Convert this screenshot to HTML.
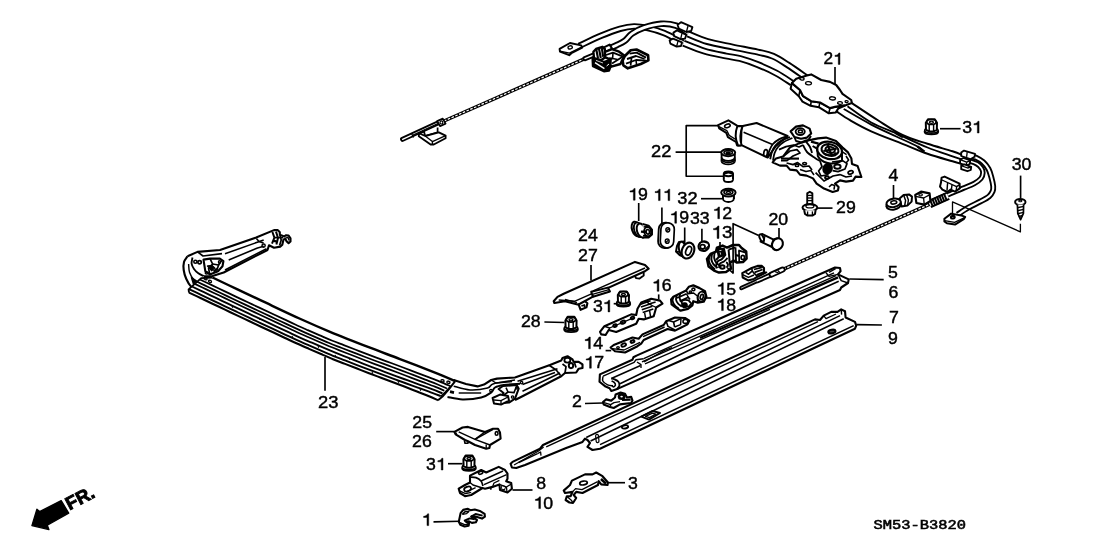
<!DOCTYPE html>
<html><head><meta charset="utf-8"><title>SM53-B3820</title>
<style>
html,body{margin:0;padding:0;background:#fff;}
body{width:1108px;height:553px;overflow:hidden;font-family:"Liberation Sans",sans-serif;}
svg{display:block;filter:grayscale(1);}
svg path, svg ellipse{stroke-linejoin:round;}
svg text{fill:#000;}
</style></head><body>
<svg width="1108" height="553" viewBox="0 0 1108 553">
<rect x="0" y="0" width="1108" height="553" fill="#fff"/>
<path d="M444 121 L590.5 56.2" fill="none" stroke="#000" stroke-width="3.5"/>
<path d="M444 121 L590.5 56.2" fill="none" stroke="#fff" stroke-width="1.2" stroke-dasharray="2.6 1.5"/>
<path d="M402.6 139.3 L440 122" fill="none" stroke="#000" stroke-width="5.05" stroke-linecap="round"/>
<path d="M402.6 139.3 L440 122" fill="none" stroke="#fff" stroke-width="1.35" stroke-linecap="round"/>
<path d="M411.5 133.5 L413.5 137.5" fill="none" stroke="#000" stroke-width="1.32" />
<path d="M412.5 135.2 L438.5 123.2" fill="none" stroke="#000" stroke-width="1.19" />
<path d="M437.2 121 L442.8 118.6 L445.6 123.6 L440 126.2 Z" fill="#fff" stroke="#000" stroke-width="1.72" />
<ellipse cx="441.4" cy="122.4" rx="1.4" ry="1.6" fill="none" stroke="#000" stroke-width="1.19"/>
<path d="M419 133.2 L424 131.6 L425.2 136 L437.6 132.4 L437.6 127.5" fill="none" stroke="#000" stroke-width="1.72" />
<path d="M425.2 136 L438.8 132.4 L445.6 135.6 L445.6 138.3 L433.8 144.5 L430.6 144.5 L418.8 136.2 L419 133.2 Z" fill="#fff" stroke="#000" stroke-width="1.85" />
<path d="M425.2 136 L432.4 141.6 L445.6 135.6" fill="none" stroke="#000" stroke-width="1.32" />
<path d="M432.4 141.6 L432.4 144.4" fill="none" stroke="#000" stroke-width="1.32" />
<path d="M579 46 C582.67 44.3 594.17 38.67 601 35.8 C607.83 32.93 614.5 30.37 620 28.8 C625.5 27.23 629.33 26.5 634 26.4 C638.67 26.3 643 27.1 648 28.2 C653 29.3 658.17 30.6 664 33 C669.83 35.4 679.83 41 683 42.6" fill="none" stroke="#000" stroke-width="6.45" stroke-linecap="butt"/>
<path d="M579 46 C582.67 44.3 594.17 38.67 601 35.8 C607.83 32.93 614.5 30.37 620 28.8 C625.5 27.23 629.33 26.5 634 26.4 C638.67 26.3 643 27.1 648 28.2 C653 29.3 658.17 30.6 664 33 C669.83 35.4 679.83 41 683 42.6" fill="none" stroke="#fff" stroke-width="2.75" stroke-linecap="butt"/>
<path d="M559.6 48.8 L570 43 L581.2 45.4 L582.2 47.6 L571.4 53.2 L569.2 55.2 L560 51.6 Z" fill="#fff" stroke="#000" stroke-width="1.98" />
<path d="M560 51.2 L569.4 53.2 L581.6 47.2" fill="none" stroke="#000" stroke-width="1.32" />
<ellipse cx="570.2" cy="47.4" rx="2.2" ry="1.5" fill="none" stroke="#000" stroke-width="1.32" transform="rotate(-15 570.2 47.4)"/>
<path d="M608.5 48.6 C609.92 48 614.25 46.33 617 45 C619.75 43.67 622.5 42.5 625 40.6 C627.5 38.7 628.83 35.77 632 33.6 C635.17 31.43 639.17 29.23 644 27.6 C648.83 25.97 655.67 24.13 661 23.8 C666.33 23.47 671.5 24.07 676 25.6 C680.5 27.13 686 31.77 688 33" fill="none" stroke="#000" stroke-width="6.45" stroke-linecap="butt"/>
<path d="M608.5 48.6 C609.92 48 614.25 46.33 617 45 C619.75 43.67 622.5 42.5 625 40.6 C627.5 38.7 628.83 35.77 632 33.6 C635.17 31.43 639.17 29.23 644 27.6 C648.83 25.97 655.67 24.13 661 23.8 C666.33 23.47 671.5 24.07 676 25.6 C680.5 27.13 686 31.77 688 33" fill="none" stroke="#fff" stroke-width="2.75" stroke-linecap="butt"/>
<path d="M585 58.6 L594 54.8" fill="none" stroke="#000" stroke-width="5.05" stroke-linecap="round"/>
<path d="M585 58.6 L594 54.8" fill="none" stroke="#fff" stroke-width="1.35" stroke-linecap="round"/>
<path d="M603.4 47.6 L609.6 44.6 L612.2 48.8 L606 51.8 Z" fill="#fff" stroke="#000" stroke-width="2.11" />
<path d="M593.4 51.8 L596 49 L602.4 46.8 L604.8 49 L605.6 57 L601 60.2 L594 58.2 Z" fill="#fff" stroke="#000" stroke-width="2.38" />
<path d="M596.4 50 L598 58.4" fill="none" stroke="#000" stroke-width="2.11" />
<path d="M599 48.8 L600.8 58" fill="none" stroke="#000" stroke-width="2.11" />
<path d="M601.8 48 L603.2 56.8" fill="none" stroke="#000" stroke-width="2.11" />
<path d="M592.6 58 L604 62 L610.6 59.6 L610.4 66.9 L609 70.5 L603.9 71.2 L593 66.1 Z" fill="#000" stroke="#000" stroke-width="2.38" />
<path d="M595 62.6 L604.4 68.6" fill="none" stroke="#fff" stroke-width="1.3" />
<path d="M606.6 66 L609 64" fill="none" stroke="#fff" stroke-width="1" />
<path d="M596 60.4 L603 63" fill="none" stroke="#fff" stroke-width="0.8" />
<path d="M604.8 52 L612 49.2 L619.1 51.7 L624.9 56 L622 60.6 L620.5 64 L610.4 66.9 L610.6 59.6 L605.4 57.4 Z" fill="#fff" stroke="#000" stroke-width="2.38" />
<path d="M606 55 L613 52.6 L623 56.6 L612 63.6" fill="none" stroke="#000" stroke-width="1.72" />
<path d="M613 52.6 L612.6 58.6 L617.6 59.6" fill="none" stroke="#000" stroke-width="1.58" />
<path d="M609 58.6 L612.4 58.6" fill="none" stroke="#000" stroke-width="2.38" />
<path d="M624.9 56 L630.7 50.2 L636.5 49.5 L648.1 55.3 L648.4 60.4 L640.8 64 L627.8 68.3 L623.4 65.4 L622.6 60.6 Z" fill="#fff" stroke="#000" stroke-width="2.64" />
<path d="M629.6 53.6 L636.6 52.6 L646 57.6" fill="none" stroke="#000" stroke-width="1.85" />
<path d="M627 59 L636 56 L644.6 59" fill="none" stroke="#000" stroke-width="1.85" />
<path d="M626 63.6 L636 60 L646.6 60.6" fill="none" stroke="#000" stroke-width="1.85" />
<path d="M631.6 57 L630.6 65.6" fill="none" stroke="#000" stroke-width="1.72" />
<path d="M636 60 L636.6 65" fill="none" stroke="#000" stroke-width="1.58" />
<path d="M683.5 43.2 C686.92 44.5 696.92 48.87 704 51 C711.08 53.13 720 54.75 726 56 C732 57.25 734.75 57.08 740 58.5 C745.25 59.92 751.5 62.08 757.5 64.5 C763.5 66.92 770.25 69.92 776 73 C781.75 76.08 789.33 81.33 792 83" fill="none" stroke="#000" stroke-width="6.85" stroke-linecap="butt"/>
<path d="M683.5 43.2 C686.92 44.5 696.92 48.87 704 51 C711.08 53.13 720 54.75 726 56 C732 57.25 734.75 57.08 740 58.5 C745.25 59.92 751.5 62.08 757.5 64.5 C763.5 66.92 770.25 69.92 776 73 C781.75 76.08 789.33 81.33 792 83" fill="none" stroke="#fff" stroke-width="3.15" stroke-linecap="butt"/>
<path d="M688 34 C691.25 35.27 700.08 39.43 707.5 41.6 C714.92 43.77 724.17 45.27 732.5 47 C740.83 48.73 750.75 50.47 757.5 52 C764.25 53.53 767.92 54.03 773 56.2 C778.08 58.37 782.5 61.47 788 65 C793.5 68.53 803 75.33 806 77.4" fill="none" stroke="#000" stroke-width="6.85" stroke-linecap="butt"/>
<path d="M688 34 C691.25 35.27 700.08 39.43 707.5 41.6 C714.92 43.77 724.17 45.27 732.5 47 C740.83 48.73 750.75 50.47 757.5 52 C764.25 53.53 767.92 54.03 773 56.2 C778.08 58.37 782.5 61.47 788 65 C793.5 68.53 803 75.33 806 77.4" fill="none" stroke="#fff" stroke-width="3.15" stroke-linecap="butt"/>
<path d="M677.6 24.8 L681 22.2 L692.4 27.2 L691.2 31 L686.4 32 L678.8 28.6 Z" fill="#fff" stroke="#000" stroke-width="1.85" />
<path d="M686.4 32 L688 26" fill="none" stroke="#000" stroke-width="1.32" />
<path d="M673.4 32.6 L677 30.4 L686.4 34.8 L685 38.6 L680.6 39.2 L674.2 36.2 Z" fill="#fff" stroke="#000" stroke-width="1.85" />
<path d="M680.6 39.2 L682 33.4" fill="none" stroke="#000" stroke-width="1.32" />
<path d="M669.6 40.4 L673 38.6 L682 42.4 L681 46 L676.6 46.6 L670.4 43.6 Z" fill="#fff" stroke="#000" stroke-width="1.85" />
<path d="M676.6 46.6 L678 41.2" fill="none" stroke="#000" stroke-width="1.32" />
<path d="M851.9 103.1 C856.17 105.92 869.07 114.68 877.5 120 C885.93 125.32 894.17 131.03 902.5 135 C910.83 138.97 919.17 141.08 927.5 143.8 C935.83 146.52 946.58 149.4 952.5 151.3 C958.42 153.2 961.25 154.55 963 155.2" fill="none" stroke="#000" stroke-width="1.98" />
<path d="M836.4 111.4 C838.67 112.87 844.2 116.88 850 120.2 C855.8 123.52 862.45 127.37 871.2 131.3 C879.95 135.23 893.12 140.05 902.5 143.8 C911.88 147.55 919.17 150.88 927.5 153.8 C935.83 156.72 946.75 159.6 952.5 161.3 C958.25 163 960.42 163.55 962 164" fill="none" stroke="#000" stroke-width="1.98" />
<path d="M847.5 106.3 C851.45 109 863.28 118.1 871.2 122.5 C879.12 126.9 890.12 130.55 895 132.7 C899.88 134.85 899.58 134.95 900.5 135.4" fill="none" stroke="#000" stroke-width="1.85" />
<path d="M843.7 109 C848.28 111.6 862.45 120.02 871.2 124.6 C879.95 129.18 888.48 132.85 896.2 136.5 C903.92 140.15 913.03 144.05 917.5 146.5 C921.97 148.95 922.08 150.42 923 151.2" fill="none" stroke="#000" stroke-width="1.85" />
<path d="M898 134.2 C902.92 136.42 918.42 143.82 927.5 147.5 C936.58 151.18 946.83 154.32 952.5 156.3 C958.17 158.28 960 158.88 961.5 159.4" fill="none" stroke="#000" stroke-width="1.85" />
<path d="M895 132.7 L903 137" fill="none" stroke="#000" stroke-width="2.64" />
<path d="M917.5 146.5 L924.5 151.8" fill="none" stroke="#000" stroke-width="2.38" />
<path d="M791.9 83.1 L790.6 88.8 L798.8 96.2 L802.5 101.6 L810.6 105.8 L818.8 107.2 L828.8 113.3 L835.6 112.6 L838.2 108.6 L846.2 105 L835 106.9 L830 108.1 L820 102.5 L811.2 101.2 L803.1 96.2 L800 90 Z" fill="#fff" stroke="#000" stroke-width="1.98" />
<path d="M791.9 83.1 L796.2 78.8 L806.9 75.6 L811.2 74.4 L821.2 80 L830 81.9 L836.2 85 L840 90 L842.5 93.8 L851.2 100 L851.9 103.1 L846.2 105 L835 106.9 L830 108.1 L820 102.5 L811.2 101.2 L803.1 96.2 L800 90 Z" fill="#fff" stroke="#000" stroke-width="2.11" />
<path d="M800 90 L798.8 96.2" fill="none" stroke="#000" stroke-width="1.58" />
<path d="M811.2 101.2 L810.6 105.8" fill="none" stroke="#000" stroke-width="1.58" />
<path d="M820 102.5 L818.8 107.2" fill="none" stroke="#000" stroke-width="1.58" />
<path d="M830 108.1 L828.8 113.3" fill="none" stroke="#000" stroke-width="1.58" />
<ellipse cx="801.9" cy="78.8" rx="2.2" ry="1.3" fill="none" stroke="#000" stroke-width="1.32" transform="rotate(10 801.9 78.8)"/>
<ellipse cx="808.5" cy="83.2" rx="3" ry="1.6" fill="none" stroke="#000" stroke-width="1.32" transform="rotate(5 808.5 83.2)"/>
<ellipse cx="832.5" cy="98.4" rx="3" ry="1.6" fill="none" stroke="#000" stroke-width="1.32" transform="rotate(5 832.5 98.4)"/>
<ellipse cx="840" cy="103" rx="2.4" ry="1.4" fill="none" stroke="#000" stroke-width="1.32" transform="rotate(5 840 103)"/>
<ellipse cx="846.6" cy="101.6" rx="1.6" ry="1" fill="none" stroke="#000" stroke-width="1.19" transform="rotate(5 846.6 101.6)"/>
<path d="M972 156.8 C972.67 156.93 974.17 156.73 976 157.6 C977.83 158.47 980.92 160.1 983 162 C985.08 163.9 987.1 166.42 988.5 169 C989.9 171.58 990.62 174.63 991.4 177.5 C992.18 180.37 993 183.88 993.2 186.2 C993.4 188.52 993.3 189.7 992.6 191.4 C991.9 193.1 991 194.73 989 196.4 C987 198.07 984.1 199.5 980.6 201.4 C977.1 203.3 971.83 205.6 968 207.8 C964.17 210 959.33 213.47 957.6 214.6" fill="none" stroke="#000" stroke-width="5.85" stroke-linecap="butt"/>
<path d="M972 156.8 C972.67 156.93 974.17 156.73 976 157.6 C977.83 158.47 980.92 160.1 983 162 C985.08 163.9 987.1 166.42 988.5 169 C989.9 171.58 990.62 174.63 991.4 177.5 C992.18 180.37 993 183.88 993.2 186.2 C993.4 188.52 993.3 189.7 992.6 191.4 C991.9 193.1 991 194.73 989 196.4 C987 198.07 984.1 199.5 980.6 201.4 C977.1 203.3 971.83 205.6 968 207.8 C964.17 210 959.33 213.47 957.6 214.6" fill="none" stroke="#fff" stroke-width="2.15" stroke-linecap="butt"/>
<path d="M966 160.6 C966.67 160.7 968.18 160.67 970 161.2 C971.82 161.73 974.98 162.63 976.9 163.8 C978.82 164.97 980.5 166.7 981.5 168.2 C982.5 169.7 982.98 171.1 982.9 172.8 C982.82 174.5 982.42 176.63 981 178.4 C979.58 180.17 977.17 181.83 974.4 183.4 C971.63 184.97 967.85 186.33 964.4 187.8 C960.95 189.27 957.1 190.73 953.7 192.2 C950.3 193.67 945.62 195.87 944 196.6" fill="none" stroke="#000" stroke-width="5.45" stroke-linecap="butt"/>
<path d="M966 160.6 C966.67 160.7 968.18 160.67 970 161.2 C971.82 161.73 974.98 162.63 976.9 163.8 C978.82 164.97 980.5 166.7 981.5 168.2 C982.5 169.7 982.98 171.1 982.9 172.8 C982.82 174.5 982.42 176.63 981 178.4 C979.58 180.17 977.17 181.83 974.4 183.4 C971.63 184.97 967.85 186.33 964.4 187.8 C960.95 189.27 957.1 190.73 953.7 192.2 C950.3 193.67 945.62 195.87 944 196.6" fill="none" stroke="#fff" stroke-width="1.75" stroke-linecap="butt"/>
<path d="M961.2 152.6 L964 150.6 L975 153.8 L974.6 156.8 L970.4 159.2 L961.2 156 Z" fill="#fff" stroke="#000" stroke-width="1.85" />
<path d="M967.2 152.2 L966.6 156.8" fill="none" stroke="#000" stroke-width="1.32" />
<path d="M960.2 159.6 L963.4 158 L970.2 160.4 L969.8 164 L966.4 165.6 L960 163.4 Z" fill="#fff" stroke="#000" stroke-width="1.85" />
<path d="M960.2 159.6 L966.6 162.2 L969.8 160.8" fill="none" stroke="#000" stroke-width="1.32" />
<path d="M966.6 162.2 L966.4 165.6" fill="none" stroke="#000" stroke-width="1.32" />
<path d="M961.2 165.6 L964.4 164.4 L971.2 166.8 L970.8 170 L967.4 171.2 L961.2 169.2 Z" fill="#fff" stroke="#000" stroke-width="1.85" />
<path d="M961.2 165.6 L967.6 168 L970.8 167" fill="none" stroke="#000" stroke-width="1.32" />
<path d="M944.4 218.8 L951.2 213.6 L962.5 215.8 L965.2 216.9 L963.7 219.2 L955 224.6 L946.9 223.3 L944.4 221.4 Z" fill="#fff" stroke="#000" stroke-width="1.98" />
<path d="M944.6 220.6 L954.6 222.4 L964.6 217.6" fill="none" stroke="#000" stroke-width="1.32" />
<ellipse cx="952.8" cy="217.2" rx="1.9" ry="1.3" fill="none" stroke="#000" stroke-width="2.11" transform="rotate(-10 952.8 217.2)"/>
<path d="M932 203.2 L782 269.9" fill="none" stroke="#000" stroke-width="3.6"/>
<path d="M932 203.2 L782 269.9" fill="none" stroke="#fff" stroke-width="1.3" stroke-dasharray="2.6 1.5"/>
<path d="M929.5 204.2 L948 195.8" fill="none" stroke="#000" stroke-width="8.45" stroke-linecap="butt"/>
<path d="M929.5 204.2 L948 195.8" fill="none" stroke="#fff" stroke-width="4.75" stroke-linecap="butt"/>
<path d="M930 199.6 L933 207" fill="none" stroke="#000" stroke-width="1.98" />
<path d="M932.3 198.55 L935.3 205.95" fill="none" stroke="#000" stroke-width="1.98" />
<path d="M934.6 197.5 L937.6 204.9" fill="none" stroke="#000" stroke-width="1.98" />
<path d="M936.9 196.45 L939.9 203.85" fill="none" stroke="#000" stroke-width="1.98" />
<path d="M939.2 195.4 L942.2 202.8" fill="none" stroke="#000" stroke-width="1.98" />
<path d="M941.5 194.35 L944.5 201.75" fill="none" stroke="#000" stroke-width="1.98" />
<path d="M943.8 193.3 L946.8 200.7" fill="none" stroke="#000" stroke-width="1.98" />
<path d="M915.2 195 L921 191.6 L929.6 193.4 L930.4 201 L924.4 204.6 L916.4 203 Z" fill="#fff" stroke="#000" stroke-width="2.11" />
<path d="M915.6 196.4 L923.6 198 L930 194.6" fill="none" stroke="#000" stroke-width="1.32" />
<path d="M923.6 198 L924.2 204.2" fill="none" stroke="#000" stroke-width="1.32" />
<ellipse cx="920.6" cy="194.8" rx="1.8" ry="1.1" fill="none" stroke="#000" stroke-width="1.19"/>
<path d="M941 182.6 L941.6 177.6 L944.6 176.6 L959.6 183.6 L959.8 188.4 L955 191.6 L950.6 189.6 L947.4 192 L942.4 189.6 L940 186.6 Z" fill="#fff" stroke="#000" stroke-width="1.98" />
<path d="M942 180 L956.6 186.6 L959.6 184.6" fill="none" stroke="#000" stroke-width="1.32" />
<path d="M947.6 183 L947 190.6" fill="none" stroke="#000" stroke-width="1.45" />
<path d="M952 185 L951.4 189.6" fill="none" stroke="#000" stroke-width="1.45" />
<path d="M956.6 186.6 L956.2 190.6" fill="none" stroke="#000" stroke-width="1.32" />
<path d="M742.3 273.1 L751.7 268 L757.5 265.9 L761.9 265.9 L764 268 L764 271.7 L766.2 272.4 L757.5 276.7 L753.9 278.9 L748.1 280.4 L742.7 277.5 Z" fill="#fff" stroke="#000" stroke-width="2.11" />
<path d="M742.6 274.6 L748.4 277.4 L754 275" fill="none" stroke="#000" stroke-width="1.45" />
<path d="M745.6 272.4 L748.6 274.2 L752.6 270.6" fill="none" stroke="#000" stroke-width="1.58" />
<path d="M753.9 269.5 L761.9 267.3" fill="none" stroke="#000" stroke-width="1.72" />
<path d="M754.6 272.4 L762.6 269.5" fill="none" stroke="#000" stroke-width="1.72" />
<path d="M756.8 274.9 L764 272" fill="none" stroke="#000" stroke-width="1.72" />
<path d="M751.7 268.4 C751.92 269 752.03 270.67 753 272 C753.97 273.33 756.75 275.67 757.5 276.4" fill="none" stroke="#000" stroke-width="1.58" />
<path d="M741.4 288 L757 280.9" fill="none" stroke="#000" stroke-width="4.35" stroke-linecap="round"/>
<path d="M741.4 288 L757 280.9" fill="none" stroke="#fff" stroke-width="0.65" stroke-linecap="round"/>
<path d="M756.6 281.2 L772 274.4" fill="none" stroke="#000" stroke-width="5.05" stroke-linecap="butt"/>
<path d="M756.6 281.2 L772 274.4" fill="none" stroke="#fff" stroke-width="1.35" stroke-linecap="butt"/>
<path d="M771.6 274.6 L782.6 269.6" fill="none" stroke="#000" stroke-width="6.05" stroke-linecap="round"/>
<path d="M771.6 274.6 L782.6 269.6" fill="none" stroke="#fff" stroke-width="2.35" stroke-linecap="round"/>
<path d="M775 271.6 L778.6 273" fill="none" stroke="#000" stroke-width="1.32" />
<path d="M777.6 270.2 L780 272.6" fill="none" stroke="#000" stroke-width="1.32" />
<ellipse cx="1020.3" cy="201.9" rx="5.2" ry="3" fill="#fff" stroke="#000" stroke-width="1.98"/>
<ellipse cx="1020.3" cy="201" rx="1.6" ry="0.7" fill="none" stroke="#000" stroke-width="1.06"/>
<path d="M1017.4 204.6 L1017.8 213.4 L1020.6 219.6 L1023.4 213.4 L1023.6 204.6" fill="#fff" stroke="#000" stroke-width="1.72" />
<path d="M1017.3 207.8 L1023.7 206.4" fill="none" stroke="#000" stroke-width="1.45" />
<path d="M1017.3 210.8 L1023.7 209.4" fill="none" stroke="#000" stroke-width="1.45" />
<path d="M1017.3 213.8 L1023.7 212.4" fill="none" stroke="#000" stroke-width="1.45" />
<path d="M1018.7 216.8 L1022.3 215.4" fill="none" stroke="#000" stroke-width="1.45" />
<path d="M899.6 198.6 L903.6 195 L909 194.4 L912 196.6 L911.6 201.6 L907.4 205.6 L901.6 206.4 Z" fill="#fff" stroke="#000" stroke-width="1.98" />
<path d="M903.6 195 L905.6 200.4 L904.6 206" fill="none" stroke="#000" stroke-width="1.45" />
<path d="M906.4 194.6 L908.4 200 L907.6 205.4" fill="none" stroke="#000" stroke-width="1.45" />
<ellipse cx="893.6" cy="205" rx="7.4" ry="4.6" fill="#fff" stroke="#000" stroke-width="1.98" transform="rotate(-10 893.6 205)"/>
<ellipse cx="893.6" cy="202.8" rx="7.2" ry="4.2" fill="#fff" stroke="#000" stroke-width="1.98" transform="rotate(-10 893.6 202.8)"/>
<ellipse cx="893.8" cy="202.4" rx="3" ry="1.6" fill="none" stroke="#000" stroke-width="1.58" transform="rotate(-10 893.8 202.4)"/>
<ellipse cx="931.4" cy="131.8" rx="6.9" ry="2.7" fill="#fff" stroke="#000" stroke-width="1.72"/>
<ellipse cx="931.4" cy="130.5" rx="6.7" ry="2.6" fill="#fff" stroke="#000" stroke-width="1.58"/>
<path d="M926 129.8 L925.8 122.8 L928 119.2 L934.8 119.2 L937 122.8 L936.8 129.8 L933.6 131.4 L929.2 131.4 Z" fill="#fff" stroke="#000" stroke-width="1.98" />
<ellipse cx="931.4" cy="122" rx="4.6" ry="2.5" fill="#fff" stroke="#000" stroke-width="1.72"/>
<ellipse cx="931.4" cy="122.2" rx="2" ry="1.1" fill="none" stroke="#000" stroke-width="1.32"/>
<path d="M929.2 124.4 L929.2 131.2" fill="none" stroke="#000" stroke-width="1.45" />
<path d="M933.6 124.4 L933.6 131.2" fill="none" stroke="#000" stroke-width="1.45" />
<ellipse cx="623.4" cy="304" rx="6.9" ry="2.7" fill="#fff" stroke="#000" stroke-width="1.72"/>
<ellipse cx="623.4" cy="302.7" rx="6.7" ry="2.6" fill="#fff" stroke="#000" stroke-width="1.58"/>
<path d="M618 302 L617.8 295 L620 291.4 L626.8 291.4 L629 295 L628.8 302 L625.6 303.6 L621.2 303.6 Z" fill="#fff" stroke="#000" stroke-width="1.98" />
<ellipse cx="623.4" cy="294.2" rx="4.6" ry="2.5" fill="#fff" stroke="#000" stroke-width="1.72"/>
<ellipse cx="623.4" cy="294.4" rx="2" ry="1.1" fill="none" stroke="#000" stroke-width="1.32"/>
<path d="M621.2 296.6 L621.2 303.4" fill="none" stroke="#000" stroke-width="1.45" />
<path d="M625.6 296.6 L625.6 303.4" fill="none" stroke="#000" stroke-width="1.45" />
<ellipse cx="469" cy="468.2" rx="6.9" ry="2.7" fill="#fff" stroke="#000" stroke-width="1.72"/>
<ellipse cx="469" cy="466.9" rx="6.7" ry="2.6" fill="#fff" stroke="#000" stroke-width="1.58"/>
<path d="M463.6 466.2 L463.4 459.2 L465.6 455.6 L472.4 455.6 L474.6 459.2 L474.4 466.2 L471.2 467.8 L466.8 467.8 Z" fill="#fff" stroke="#000" stroke-width="1.98" />
<ellipse cx="469" cy="458.4" rx="4.6" ry="2.5" fill="#fff" stroke="#000" stroke-width="1.72"/>
<ellipse cx="469" cy="458.6" rx="2" ry="1.1" fill="none" stroke="#000" stroke-width="1.32"/>
<path d="M466.8 460.8 L466.8 467.6" fill="none" stroke="#000" stroke-width="1.45" />
<path d="M471.2 460.8 L471.2 467.6" fill="none" stroke="#000" stroke-width="1.45" />
<ellipse cx="571" cy="329.4" rx="6.9" ry="2.7" fill="#fff" stroke="#000" stroke-width="1.72"/>
<ellipse cx="571" cy="328.1" rx="6.7" ry="2.6" fill="#fff" stroke="#000" stroke-width="1.58"/>
<path d="M565.6 327.4 L565.4 320.4 L567.6 316.8 L574.4 316.8 L576.6 320.4 L576.4 327.4 L573.2 329 L568.8 329 Z" fill="#fff" stroke="#000" stroke-width="1.98" />
<ellipse cx="571" cy="319.6" rx="4.6" ry="2.5" fill="#fff" stroke="#000" stroke-width="1.72"/>
<ellipse cx="571" cy="319.8" rx="2" ry="1.1" fill="none" stroke="#000" stroke-width="1.32"/>
<path d="M568.8 322 L568.8 328.8" fill="none" stroke="#000" stroke-width="1.45" />
<path d="M573.2 322 L573.2 328.8" fill="none" stroke="#000" stroke-width="1.45" />
<ellipse cx="728.4" cy="198.8" rx="5.4" ry="3.2" fill="#fff" stroke="#000" stroke-width="1.85"/>
<path d="M723 194.7 L723 198.8" fill="none" stroke="#000" stroke-width="1.85" />
<path d="M733.8 194.7 L733.8 198.8" fill="none" stroke="#000" stroke-width="1.85" />
<path d="M723.2 194.7 L733.6 194.7 L733.6 198.8 L723.2 198.8 Z" fill="#fff" stroke="#fff" stroke-width="0.1" />
<path d="M723 194.7 L723 199" fill="none" stroke="#000" stroke-width="1.85" />
<path d="M733.8 194.7 L733.8 199" fill="none" stroke="#000" stroke-width="1.85" />
<ellipse cx="728.4" cy="192.6" rx="7.2" ry="3.8" fill="#fff" stroke="#000" stroke-width="1.98"/>
<ellipse cx="728.4" cy="192.3" rx="4.4" ry="2.2" fill="none" stroke="#000" stroke-width="1.72"/>
<ellipse cx="728.4" cy="192.3" rx="2.2" ry="1" fill="none" stroke="#000" stroke-width="1.32"/>
<ellipse cx="728.2" cy="161.2" rx="6.6" ry="3.2" fill="#fff" stroke="#000" stroke-width="1.85"/>
<path d="M721.6 155.2 h13.2 v6 h-13.2 Z" fill="#fff" stroke="#fff" stroke-width="0.1" />
<path d="M721.6 153.8 L721.6 161.2" fill="none" stroke="#000" stroke-width="1.85" />
<path d="M734.8 153.8 L734.8 161.2" fill="none" stroke="#000" stroke-width="1.85" />
<path d="M721.6 157.6 A6.6 3.2 0 0 0 734.8 157.6" fill="none" stroke="#000" stroke-width="1.72" />
<path d="M721.6 159.2 A6.6 3.2 0 0 0 734.8 159.2" fill="none" stroke="#000" stroke-width="1.72" />
<ellipse cx="728.2" cy="152.6" rx="7" ry="3.6" fill="#fff" stroke="#000" stroke-width="1.98"/>
<ellipse cx="728.2" cy="152.6" rx="4.2" ry="2" fill="none" stroke="#000" stroke-width="1.58"/>
<ellipse cx="728.2" cy="153" rx="2" ry="0.9" fill="#000" stroke="#000" stroke-width="1.58"/>
<ellipse cx="728.4" cy="179.4" rx="4.6" ry="2.6" fill="#fff" stroke="#000" stroke-width="1.85"/>
<path d="M723.8 174.2 h9.2 v5.2 h-9.2 Z" fill="#fff" stroke="#fff" stroke-width="0.1" />
<path d="M723.8 173.8 L723.8 179.6" fill="none" stroke="#000" stroke-width="1.98" />
<path d="M733 173.8 L733 179.6" fill="none" stroke="#000" stroke-width="1.98" />
<ellipse cx="728.4" cy="173.8" rx="4.6" ry="2.4" fill="#fff" stroke="#000" stroke-width="1.98"/>
<path d="M724.6 174.0 A3.8 1.8 0 0 1 732.2 174.0" fill="none" stroke="#000" stroke-width="2.64" />
<path d="M807.2 204 L807.2 193.4 L809.8 191.8 L812.4 193.4 L812.4 204" fill="#fff" stroke="#000" stroke-width="1.85" />
<path d="M807.2 195.4 L812.4 195.4" fill="none" stroke="#000" stroke-width="1.32" />
<path d="M807.2 198 L812.4 198" fill="none" stroke="#000" stroke-width="1.32" />
<path d="M807.2 200.6 L812.4 200.6" fill="none" stroke="#000" stroke-width="1.32" />
<ellipse cx="809.9" cy="207.6" rx="7.4" ry="3.6" fill="#fff" stroke="#000" stroke-width="1.98"/>
<ellipse cx="809.9" cy="206.2" rx="4" ry="1.7" fill="none" stroke="#000" stroke-width="1.32"/>
<path d="M804.2 210.2 L805 214 L807.6 215.6 L812.4 215.6 L815 214 L815.6 210.2" fill="#fff" stroke="#000" stroke-width="1.98" />
<path d="M807.6 211.4 L807.6 215.4" fill="none" stroke="#000" stroke-width="1.32" />
<path d="M812.4 211.4 L812.4 215.4" fill="none" stroke="#000" stroke-width="1.32" />
<path d="M718.1 125.2 L728.4 120.3 L737.1 125.7 L740.6 126 L740.6 145.4 L737.1 145.4 L736 142 L727.9 137.1 L726.3 132.8 L719.2 128.4 Z" fill="#fff" stroke="#000" stroke-width="1.98" />
<path d="M719 126.6 L726.8 130.6 L729.2 135.4 L736.6 140 L737.6 143" fill="none" stroke="#000" stroke-width="1.32" />
<ellipse cx="727.4" cy="125.8" rx="2.9" ry="1.7" fill="none" stroke="#000" stroke-width="1.58" transform="rotate(-18 727.4 125.8)"/>
<path d="M741.6 126.2 L756.6 123 L787.6 136 L776 146 L767.6 157.6 L741 144.9 Z" fill="#fff" stroke="#000" stroke-width="1.98" />
<path d="M743.6 132.2 L772.6 144.6" fill="none" stroke="#000" stroke-width="1.58" />
<path d="M737.4 126.0 C735.2 132 735.4 140 738.0 145.4 L741.6 145.2 C739.8 140 739.8 132 742.6 126.2 Z" fill="#fff" stroke="#000" stroke-width="1.98" />
<path d="M787.6 136 C786.17 136.57 781.43 138.07 779 139.4 C776.57 140.73 774.57 142.23 773 144 C771.43 145.77 770.5 147.77 769.6 150 C768.7 152.23 767.93 156.17 767.6 157.4" fill="none" stroke="#000" stroke-width="1.85" />
<path d="M790 137 C788.57 137.6 783.83 139.17 781.4 140.6 C778.97 142.03 776.97 143.77 775.4 145.6 C773.83 147.43 772.87 149.33 772 151.6 C771.13 153.87 770.5 157.93 770.2 159.2" fill="none" stroke="#000" stroke-width="1.85" />
<path d="M792.4 138 C790.97 138.67 786.2 140.5 783.8 142 C781.4 143.5 779.53 145.17 778 147 C776.47 148.83 775.43 150.73 774.6 153 C773.77 155.27 773.27 159.33 773 160.6" fill="none" stroke="#000" stroke-width="1.85" />
<ellipse cx="765.6" cy="153" rx="1.8" ry="3.4" fill="#fff" stroke="#000" stroke-width="1.72" transform="rotate(10 765.6 153)"/>
<path d="M772.6 162.4 L776 158.4 L783 156.6 L790 147.4 L799 143.4 L806 140.6 L812 139.6 L818 138.4 L826 137.6 L836 141 L842.6 147.6 L848 152.4 L851.4 158.6 L852 164 L857.6 166 L861.4 177 L855.6 176.6 L853 180.6 L846 181.6 L840 180.4 L835 183.6 L838.6 187 L838 190.4 L832.6 192 L824 188.6 L816.6 183.6 L813 178.4 L806.6 175.6 L800 174.6 L796.6 170.4 L790 169.6 L786.6 165.6 L780 165.6 Z" fill="#fff" stroke="#000" stroke-width="2.11" />
<path d="M790.6 131.4 L796 126.6 L803 125.4 L809.6 128.6 L811.2 133.6 L807 137.6 L801 138.8 L794.4 137 Z" fill="#fff" stroke="#000" stroke-width="2.11" />
<ellipse cx="800.2" cy="131.6" rx="4.6" ry="3.4" fill="none" stroke="#000" stroke-width="1.85"/>
<ellipse cx="800.4" cy="131.4" rx="2" ry="1.4" fill="none" stroke="#000" stroke-width="1.58"/>
<path d="M794.4 137 L796 141 L802 142.6 L808 140.6 L811 136" fill="none" stroke="#000" stroke-width="1.85" />
<path d="M779 149.6 L786 146.6 L793.6 145 L799 147 L803 145" fill="none" stroke="#000" stroke-width="1.72" />
<path d="M783 156.6 L790 151 L797 149.6 L800 153 L793 156 L787 160.6 L781 160.6" fill="none" stroke="#000" stroke-width="1.72" />
<path d="M781 158.6 L799 158.6" fill="none" stroke="#000" stroke-width="2.11" />
<path d="M817.4 150.0 L817.8 156.0 C821 162.6 833 166.6 842.0 160.6 L842.0 153.0" fill="#fff" stroke="#000" stroke-width="1.98" />
<ellipse cx="829.6" cy="150.4" rx="12.6" ry="8.6" fill="#fff" stroke="#000" stroke-width="2.24" transform="rotate(12 829.6 150.4)"/>
<ellipse cx="830" cy="150" rx="8.6" ry="5.7" fill="none" stroke="#000" stroke-width="2.11" transform="rotate(12 830 150)"/>
<ellipse cx="830.2" cy="149.8" rx="4.8" ry="3" fill="none" stroke="#000" stroke-width="1.98" transform="rotate(12 830.2 149.8)"/>
<path d="M827.6 145 L831.6 155" fill="none" stroke="#000" stroke-width="2.24" />
<path d="M823.4 151 L836.6 148.6" fill="none" stroke="#000" stroke-width="2.24" />
<path d="M824.0 153.6 C827 156 833 156 836.6 152.6" fill="none" stroke="#000" stroke-width="1.98" />
<path d="M806 141.6 C806.67 142.5 809 145.1 810 147 C811 148.9 811.67 152 812 153" fill="none" stroke="#000" stroke-width="1.85" />
<path d="M803 145 C803.67 146.17 805 149.83 807 152 C809 154.17 812.83 156.5 815 158 C817.17 159.5 819.17 160.5 820 161" fill="none" stroke="#000" stroke-width="1.85" />
<path d="M811 141.6 L818.6 143.6" fill="none" stroke="#000" stroke-width="2.38" />
<path d="M812.6 146 L817 148.6" fill="none" stroke="#000" stroke-width="1.98" />
<path d="M820 161 L822 166.6 L818.6 171 L821 176 L828.6 174.6" fill="none" stroke="#000" stroke-width="1.72" />
<ellipse cx="827.6" cy="168.6" rx="3.6" ry="4.4" fill="#000" stroke="#000" stroke-width="3.17" transform="rotate(20 827.6 168.6)"/>
<ellipse cx="827" cy="177.6" rx="2" ry="1.2" fill="none" stroke="#000" stroke-width="1.85"/>
<ellipse cx="837.4" cy="166.6" rx="3.2" ry="2.2" fill="none" stroke="#000" stroke-width="1.98"/>
<path d="M832 162 L842.6 160.6 L847 163.6 L845 169 L838 171.6 L832.6 170.6" fill="none" stroke="#000" stroke-width="1.72" />
<path d="M815.6 172.6 L824 181 L833 176 L840 174.6" fill="none" stroke="#000" stroke-width="1.72" />
<path d="M840 174.6 L846 177 L852 176" fill="none" stroke="#000" stroke-width="1.58" />
<ellipse cx="850.6" cy="172.4" rx="2.6" ry="1.6" fill="none" stroke="#000" stroke-width="1.72" transform="rotate(-20 850.6 172.4)"/>
<path d="M846 156 L848.6 160 L846 163" fill="none" stroke="#000" stroke-width="1.58" />
<path d="M842 151.6 L846.6 154.6" fill="none" stroke="#000" stroke-width="1.58" />
<path d="M786.6 163 L793 164.6 L797.6 162.6 L803 166.6 L809 166 L812 170" fill="none" stroke="#000" stroke-width="1.72" />
<ellipse cx="797" cy="165.4" rx="1.8" ry="1.2" fill="none" stroke="#000" stroke-width="1.45"/>
<ellipse cx="804.6" cy="163.6" rx="2" ry="1.2" fill="none" stroke="#000" stroke-width="1.45"/>
<path d="M800 169.6 L806 171.6 L811 170.6 L814 175" fill="none" stroke="#000" stroke-width="1.58" />
<path d="M829 187 L831.6 184.6 L834.6 185.6 L834 189.6" fill="none" stroke="#000" stroke-width="1.58" />
<ellipse cx="636.4" cy="229" rx="4.4" ry="7.6" fill="#fff" stroke="#000" stroke-width="1.98" transform="rotate(-18 636.4 229)"/>
<ellipse cx="638.6" cy="229.8" rx="4.4" ry="7.6" fill="#fff" stroke="#000" stroke-width="1.85" transform="rotate(-18 638.6 229.8)"/>
<ellipse cx="641.2" cy="230.6" rx="4.2" ry="7.2" fill="#fff" stroke="#000" stroke-width="1.98" transform="rotate(-18 641.2 230.6)"/>
<path d="M642.6 224 L648.6 225.6 L652 229.6 L652 234.6 L648.6 237.6 L642 237.6" fill="#fff" stroke="#000" stroke-width="1.98" />
<ellipse cx="647.6" cy="231.6" rx="3.4" ry="4.6" fill="#fff" stroke="#000" stroke-width="1.85" transform="rotate(-10 647.6 231.6)"/>
<ellipse cx="647.8" cy="231.8" rx="1.7" ry="2.3" fill="none" stroke="#000" stroke-width="1.72" transform="rotate(-10 647.8 231.8)"/>
<path d="M641 231.6 L646 232" fill="none" stroke="#000" stroke-width="2.38" />
<path d="M643.6 227 L647.6 226.4" fill="none" stroke="#000" stroke-width="1.72" />
<path d="M643 235.6 L646.6 236.2" fill="none" stroke="#000" stroke-width="1.72" />
<rect x="658.4" y="222.6" width="14.0" height="25.6" rx="6.6" ry="6.6" fill="#fff" stroke="#000" stroke-width="1.8" transform="rotate(3 665.4 235.4)"/>
<rect x="660.6" y="222.8" width="13.4" height="25.0" rx="6.4" ry="6.4" fill="#fff" stroke="#000" stroke-width="1.7" transform="rotate(3 667.3 235.3)"/>
<ellipse cx="667.8" cy="229.8" rx="1.9" ry="2.1" fill="none" stroke="#000" stroke-width="1.45"/>
<ellipse cx="667.2" cy="241.2" rx="1.9" ry="2.1" fill="none" stroke="#000" stroke-width="1.45"/>
<path d="M666.6 230.8 L669 228.8" fill="none" stroke="#000" stroke-width="1.19" />
<path d="M666 242.2 L668.4 240.2" fill="none" stroke="#000" stroke-width="1.19" />
<path d="M677 246 L679 242 L684 241.6 L684 257 L679.6 255 L676 251.6 Z" fill="#fff" stroke="#000" stroke-width="1.98" />
<ellipse cx="682.6" cy="249" rx="3.6" ry="7.4" fill="#fff" stroke="#000" stroke-width="1.98" transform="rotate(-12 682.6 249)"/>
<ellipse cx="688" cy="250.6" rx="6" ry="8.2" fill="#fff" stroke="#000" stroke-width="2.11" transform="rotate(22 688 250.6)"/>
<ellipse cx="688.6" cy="250.8" rx="2.6" ry="4.6" fill="none" stroke="#000" stroke-width="1.72" transform="rotate(22 688.6 250.8)"/>
<path d="M676 251.6 L680 252" fill="none" stroke="#000" stroke-width="1.58" />
<ellipse cx="703.8" cy="246.2" rx="5.4" ry="4.8" fill="#fff" stroke="#000" stroke-width="1.98" transform="rotate(-20 703.8 246.2)"/>
<ellipse cx="702.6" cy="246.8" rx="2.4" ry="2.2" fill="none" stroke="#000" stroke-width="1.85"/>
<path d="M699.6 243 L703 241.6 L707.6 243" fill="none" stroke="#000" stroke-width="1.45" />
<path d="M705 249.6 L708.6 246" fill="none" stroke="#000" stroke-width="1.45" />
<path d="M762 234 L773.6 239.6 L772 247 L760.6 241.6 Z" fill="#fff" stroke="#000" stroke-width="1.98" />
<ellipse cx="761.6" cy="237.8" rx="1.8" ry="3.8" fill="#fff" stroke="#000" stroke-width="1.98" transform="rotate(-25 761.6 237.8)"/>
<path d="M765 235.6 L763.6 242.8" fill="none" stroke="#000" stroke-width="1.32" />
<ellipse cx="777.4" cy="244.2" rx="5.2" ry="6.2" fill="#fff" stroke="#000" stroke-width="2.11" transform="rotate(30 777.4 244.2)"/>
<path d="M773.6 239.4 L778 238.2" fill="none" stroke="#000" stroke-width="1.85" />
<path d="M772.6 248 L776 250.2" fill="none" stroke="#000" stroke-width="1.85" />
<path d="M707 259 L710.6 254 L716 251.6 L717 247.6 L722.6 245.6 L727 247.6 L733 245 L739 245 L741.6 248 L746.2 251.6 L746.6 258.6 L743 262 L737 262.6 L733.6 260.6 L730 262.6 L731 268.6 L726 272 L719 272.6 L714 270.6 L708.6 266.6 Z" fill="#fff" stroke="#000" stroke-width="2.51" />
<path d="M709.6 255.6 C709.47 256.43 708.57 258.93 708.8 260.6 C709.03 262.27 709.97 264.1 711 265.6 C712.03 267.1 714.33 268.93 715 269.6" fill="none" stroke="#000" stroke-width="1.98" />
<path d="M712 254 C711.9 254.93 711.13 257.87 711.4 259.6 C711.67 261.33 712.57 263 713.6 264.4 C714.63 265.8 716.93 267.4 717.6 268" fill="none" stroke="#000" stroke-width="1.98" />
<path d="M714.6 252.6 C714.53 253.5 713.93 256.33 714.2 258 C714.47 259.67 715.3 261.33 716.2 262.6 C717.1 263.87 719.03 265.1 719.6 265.6" fill="none" stroke="#000" stroke-width="1.85" />
<path d="M717 248.6 L724 248.6 L725.4 254.8 L718.8 257 Z" fill="#000" stroke="#000" stroke-width="1.85" />
<path d="M719.4 250.4 L721.4 250.4" fill="none" stroke="#fff" stroke-width="0.9" />
<path d="M720.2 252.4 L720.6 254.6" fill="none" stroke="#fff" stroke-width="0.8" />
<path d="M718.8 257 L716 260" fill="none" stroke="#000" stroke-width="1.85" />
<path d="M725.4 254.8 C724.83 255.5 723.3 257.87 722 259 C720.7 260.13 718.6 260.43 717.6 261.6 C716.6 262.77 716.27 265.27 716 266" fill="none" stroke="#000" stroke-width="1.98" />
<path d="M727.6 258 C727 258.6 725.27 260.67 724 261.6 C722.73 262.53 720.83 262.53 720 263.6 C719.17 264.67 719.17 267.27 719 268" fill="none" stroke="#000" stroke-width="1.85" />
<ellipse cx="722.4" cy="267" rx="2.2" ry="1.7" fill="none" stroke="#000" stroke-width="1.98"/>
<path d="M726.0 262.4 C728.4 263 728.6 266 726.4 267.6" fill="none" stroke="#000" stroke-width="1.98" />
<path d="M728.6 249.6 L729.6 262" fill="none" stroke="#000" stroke-width="1.98" />
<path d="M735.4 247.4 L736 261.8" fill="none" stroke="#000" stroke-width="1.98" />
<path d="M728.6 249.6 L735.4 247.4" fill="none" stroke="#000" stroke-width="1.72" />
<path d="M738.4 250.4 L745.6 252.6" fill="none" stroke="#000" stroke-width="1.72" />
<path d="M739 250.6 L739.2 261.4" fill="none" stroke="#000" stroke-width="1.72" />
<path d="M736 255 L739 256" fill="none" stroke="#000" stroke-width="2.11" />
<ellipse cx="742.8" cy="257.4" rx="1.7" ry="2.1" fill="none" stroke="#000" stroke-width="1.72"/>
<path d="M187.5 256.2 L197.5 251.9 L220 250 L256.2 237.5 L274 230.1 L277.8 230.1 L279.8 232.3 L279.8 234.6 L284.2 236.5 L286.1 235.2 L288.6 235.5 L290.5 238.4 L290.5 241.5 L288.6 243.1 L286.7 241.5 L285.4 239 L283.5 239.6 L282.3 244.7 L280.4 246.6 L274 247.8 L269 245.3 L267.5 250 L223.7 272.5 L212.5 276 L204 276.2" fill="#fff" stroke="#000" stroke-width="2.11" />
<path d="M187.5 256.2 C186.92 257.17 184.63 259.7 184 262 C183.37 264.3 183.33 267.22 183.7 270 C184.07 272.78 184.98 275.97 186.2 278.7 C187.42 281.43 189.53 285.02 191 286.4 C192.47 287.78 194.33 286.9 195 287" fill="none" stroke="#000" stroke-width="2.11" />
<path d="M192.5 257.5 C192.35 258.53 191.35 261.78 191.6 263.7 C191.85 265.62 192.93 267.45 194 269 C195.07 270.55 196.38 271.8 198 273 C199.62 274.2 202.75 275.67 203.7 276.2" fill="none" stroke="#000" stroke-width="1.85" />
<path d="M188.6 264 C188.77 265.42 188.7 269.83 189.6 272.5 C190.5 275.17 192.5 278.25 194 280 C195.5 281.75 197.83 282.5 198.6 283" fill="none" stroke="#000" stroke-width="1.45" />
<path d="M225 253.7 L263.7 240" fill="none" stroke="#000" stroke-width="1.58" />
<path d="M228.7 260 L257.5 248 L263.7 246.2" fill="none" stroke="#000" stroke-width="1.58" />
<path d="M225 270 L266.5 248.7" fill="none" stroke="#000" stroke-width="1.58" />
<path d="M197.5 251.9 L203 256 L222 253.6" fill="none" stroke="#000" stroke-width="1.58" />
<ellipse cx="263.6" cy="245.6" rx="1.6" ry="1.6" fill="none" stroke="#000" stroke-width="1.45"/>
<path d="M272.4 232 L274.4 237.6 L272 243.6" fill="none" stroke="#000" stroke-width="1.98" />
<path d="M276 231.6 L278 238 L276.4 244.6" fill="none" stroke="#000" stroke-width="1.98" />
<path d="M274.4 237.6 L283 237.6" fill="none" stroke="#000" stroke-width="1.72" />
<path d="M279.8 234.6 L281.2 240 L279.6 245.6" fill="none" stroke="#000" stroke-width="1.72" />
<path d="M273 240.6 L277 241.6" fill="none" stroke="#000" stroke-width="2.38" />
<path d="M284.4 238.4 L288 237.4 L289.2 240.6" fill="none" stroke="#000" stroke-width="1.45" />
<path d="M256.4 238.6 L259 241.6 L263.6 243" fill="none" stroke="#000" stroke-width="1.58" />
<path d="M203.5 259.6 L210 258.6 L219.8 258.6 L223.4 261.2 L222.5 266.2 L218 271.2 L209.8 274.4 L205.3 271.2 Z" fill="#fff" stroke="#000" stroke-width="2.11" />
<path d="M210 258.6 L212.6 264 L208.6 268.6 L209.8 274.4" fill="none" stroke="#000" stroke-width="1.72" />
<path d="M212.6 264 L218.6 265 L222 260" fill="none" stroke="#000" stroke-width="1.72" />
<path d="M218.6 265 L216.6 270.8" fill="none" stroke="#000" stroke-width="1.72" />
<path d="M207.6 266 L211.6 270.6 L214.6 268 L212 265.6 Z" fill="#000" stroke="#000" stroke-width="1.58" />
<path d="M213.6 271.6 L217 268.6" fill="none" stroke="#000" stroke-width="2.38" />
<ellipse cx="195.4" cy="261.7" rx="1.6" ry="1.5" fill="none" stroke="#000" stroke-width="1.58"/>
<ellipse cx="199.6" cy="262.2" rx="1.7" ry="1.6" fill="none" stroke="#000" stroke-width="1.72"/>
<ellipse cx="206.6" cy="273" rx="1.3" ry="1" fill="none" stroke="#000" stroke-width="1.58"/>
<ellipse cx="219.4" cy="262" rx="1" ry="1.4" fill="none" stroke="#000" stroke-width="1.32"/>
<path d="M191.4 277.6 L196.4 280.8 L193.4 284 Z" fill="#000" stroke="#000" stroke-width="1.32" />
<path d="M212.5 277.5 L237.5 289.4 L262.5 301.2 L300 318.75 L330 331.8 L370 347.7 L400 359.07 L437.5 373.7 L455.2 381.2 L438 400.2 L429 396.21 L417 391.48 L405 386.74 L393 382.17 L381 377.7 L369 373.22 L357 368.54 L345 363.86 L333 359.17 L321 354.08 L309 348.87 L297 343.55 L285 337.93 L273 332.31 L261 326.69 L249 321.03 L237 315.36 L225 309.65 L213 303.94 L201 298.23 L189 292.6 L188.6 289.4 L201.2 278.1 Z" fill="#fff" stroke="#fff" stroke-width="0.5" />
<path d="M212.5 277.5 C216.67 279.48 229.17 285.45 237.5 289.4 C245.83 293.35 252.08 296.31 262.5 301.2 C272.92 306.09 288.75 313.65 300 318.75 C311.25 323.85 318.33 326.98 330 331.8 C341.67 336.62 358.33 343.15 370 347.7 C381.67 352.25 388.75 354.74 400 359.07 C411.25 363.4 428.3 370.01 437.5 373.7 C446.7 377.39 452.25 379.95 455.2 381.2" fill="none" stroke="#000" stroke-width="2.44" />
<path d="M199.78 279.45 C201.78 280.4 207.78 283.25 211.78 285.16 C215.78 287.06 219.78 288.97 223.78 290.87 C227.78 292.77 231.78 294.69 235.78 296.58 C239.78 298.48 243.78 300.36 247.78 302.25 C251.78 304.14 255.78 306.04 259.78 307.92 C263.78 309.8 267.78 311.67 271.78 313.54 C275.78 315.42 279.78 317.29 283.78 319.16 C287.78 321.03 291.78 322.95 295.78 324.78 C299.78 326.61 303.78 328.37 307.78 330.14 C311.78 331.9 315.78 333.63 319.78 335.36 C323.78 337.08 327.78 338.86 331.78 340.49 C335.78 342.12 339.78 343.58 343.78 345.12 C347.78 346.67 351.78 348.21 355.78 349.75 C359.78 351.3 363.78 352.87 367.78 354.39 C371.78 355.9 375.78 357.36 379.78 358.84 C383.78 360.32 387.78 361.77 391.78 363.25 C395.78 364.73 399.78 366.21 403.78 367.72 C407.78 369.23 411.78 370.79 415.78 372.32 C419.78 373.86 423.78 375.38 427.78 376.92 C431.78 378.47 435.98 380.06 439.78 381.6 C443.59 383.15 448.8 385.43 450.6 386.2" fill="none" stroke="#000" stroke-width="1.78" />
<path d="M197.17 281.8 C199.17 282.75 205.17 285.61 209.17 287.51 C213.17 289.42 217.17 291.32 221.17 293.23 C225.17 295.13 229.17 297.04 233.17 298.94 C237.17 300.84 241.17 302.73 245.17 304.62 C249.17 306.51 253.17 308.4 257.17 310.28 C261.17 312.17 265.17 314.04 269.17 315.92 C273.17 317.8 277.17 319.66 281.17 321.54 C285.17 323.41 289.17 325.31 293.17 327.15 C297.17 329 301.17 330.82 305.17 332.6 C309.17 334.38 313.17 336.08 317.17 337.82 C321.17 339.56 325.17 341.39 329.17 343.04 C333.17 344.69 337.17 346.16 341.17 347.71 C345.17 349.26 349.17 350.8 353.17 352.34 C357.17 353.89 361.17 355.46 365.17 356.98 C369.17 358.5 373.17 359.99 377.17 361.48 C381.17 362.96 385.17 364.41 389.17 365.89 C393.17 367.36 397.17 368.81 401.17 370.32 C405.17 371.83 409.17 373.41 413.17 374.95 C417.17 376.49 421.17 378.03 425.17 379.58 C429.17 381.12 433.53 382.72 437.17 384.21 C440.81 385.69 445.36 387.78 447 388.5" fill="none" stroke="#000" stroke-width="1.78" />
<path d="M194.84 283.9 C196.84 284.85 202.84 287.7 206.84 289.61 C210.84 291.51 214.84 293.42 218.84 295.32 C222.84 297.22 226.84 299.13 230.84 301.03 C234.84 302.93 238.84 304.83 242.84 306.72 C246.84 308.61 250.84 310.5 254.84 312.39 C258.84 314.27 262.84 316.16 266.84 318.03 C270.84 319.91 274.84 321.78 278.84 323.65 C282.84 325.52 286.84 327.41 290.84 329.26 C294.84 331.12 298.84 333 302.84 334.79 C306.84 336.58 310.84 338.27 314.84 340.01 C318.84 341.75 322.84 343.55 326.84 345.23 C330.84 346.9 334.84 348.48 338.84 350.06 C342.84 351.65 346.84 353.2 350.84 354.77 C354.84 356.33 358.84 357.92 362.84 359.47 C366.84 361.02 370.84 362.56 374.84 364.08 C378.84 365.59 382.84 367.07 386.84 368.56 C390.84 370.05 394.84 371.53 398.84 373.04 C402.84 374.54 406.84 376.07 410.84 377.58 C414.84 379.1 418.84 380.61 422.84 382.13 C426.84 383.64 431.27 385.25 434.84 386.68 C438.42 388.11 442.72 390.03 444.3 390.7" fill="none" stroke="#000" stroke-width="1.78" />
<path d="M191.94 286.51 C193.94 287.46 199.94 290.32 203.94 292.22 C207.94 294.13 211.94 296.03 215.94 297.94 C219.94 299.84 223.94 301.75 227.94 303.65 C231.94 305.55 235.94 307.46 239.94 309.35 C243.94 311.25 247.94 313.13 251.94 315.02 C255.94 316.9 259.94 318.79 263.94 320.67 C267.94 322.55 271.94 324.42 275.94 326.29 C279.94 328.16 283.94 330.03 287.94 331.91 C291.94 333.78 295.94 335.72 299.94 337.52 C303.94 339.33 307.94 341 311.94 342.74 C315.94 344.48 319.94 346.26 323.94 347.96 C327.94 349.66 331.94 351.32 335.94 352.94 C339.94 354.55 343.94 356.08 347.94 357.65 C351.94 359.23 355.94 360.81 359.94 362.37 C363.94 363.94 367.94 365.53 371.94 367.06 C375.94 368.59 379.94 370.05 383.94 371.55 C387.94 373.05 391.94 374.56 395.94 376.05 C399.94 377.53 403.94 378.99 407.94 380.46 C411.94 381.92 415.94 383.36 419.94 384.82 C423.94 386.27 428.18 387.75 431.94 389.18 C435.7 390.61 440.74 392.7 442.5 393.4" fill="none" stroke="#000" stroke-width="1.91" />
<path d="M189.03 289.13 C191.03 290.08 197.03 292.94 201.03 294.84 C205.03 296.75 209.03 298.65 213.03 300.55 C217.03 302.46 221.03 304.36 225.03 306.27 C229.03 308.17 233.03 310.08 237.03 311.98 C241.03 313.87 245.03 315.76 249.03 317.64 C253.03 319.53 257.03 321.43 261.03 323.31 C265.03 325.19 269.03 327.06 273.03 328.93 C277.03 330.8 281.03 332.67 285.03 334.55 C289.03 336.42 293.03 338.34 297.03 340.16 C301.03 341.98 305.03 343.72 309.03 345.48 C313.03 347.24 317.03 348.98 321.03 350.7 C325.03 352.42 329.03 354.15 333.03 355.78 C337.03 357.4 341.03 358.88 345.03 360.43 C349.03 361.98 353.03 363.53 357.03 365.08 C361.03 366.63 365.03 368.21 369.03 369.73 C373.03 371.24 377.03 372.69 381.03 374.17 C385.03 375.65 389.03 377.13 393.03 378.6 C397.03 380.07 401.03 381.53 405.03 382.98 C409.03 384.43 413.03 385.85 417.03 387.29 C421.03 388.72 425.09 390.12 429.03 391.59 C432.98 393.06 438.76 395.35 440.7 396.1" fill="none" stroke="#000" stroke-width="1.91" />
<path d="M189 292.6 C191 293.54 197 296.34 201 298.23 C205 300.12 209 302.03 213 303.94 C217 305.84 221 307.75 225 309.65 C229 311.55 233 313.47 237 315.36 C241 317.26 245 319.14 249 321.03 C253 322.92 257 324.81 261 326.69 C265 328.57 269 330.44 273 332.31 C277 334.19 281 336.06 285 337.93 C289 339.8 293 341.72 297 343.55 C301 345.37 305 347.11 309 348.87 C313 350.62 317 352.37 321 354.08 C325 355.8 329 357.54 333 359.17 C337 360.8 341 362.29 345 363.86 C349 365.42 353 366.98 357 368.54 C361 370.1 365 371.7 369 373.22 C373 374.75 377 376.21 381 377.7 C385 379.2 389 380.66 393 382.17 C397 383.67 401 385.19 405 386.74 C409 388.29 413 389.9 417 391.48 C421 393.06 425.5 394.76 429 396.21 C432.5 397.67 436.5 399.54 438 400.2" fill="none" stroke="#000" stroke-width="2.11" />
<path d="M212.5 277.5 L201.2 278.1 L188.6 289.4 L189 292.6" fill="none" stroke="#000" stroke-width="1.85" />
<ellipse cx="205.6" cy="278.8" rx="1.6" ry="1" fill="none" stroke="#000" stroke-width="1.32" transform="rotate(20 205.6 278.8)"/>
<ellipse cx="210" cy="281.4" rx="1.6" ry="1" fill="none" stroke="#000" stroke-width="1.32" transform="rotate(20 210 281.4)"/>
<path d="M455.2 381.2 L448.8 389.4 L442.5 396.6 L438 400.2" fill="none" stroke="#000" stroke-width="1.98" />
<path d="M450.6 386.2 L445.2 392 L440.7 396.6" fill="none" stroke="#000" stroke-width="1.45" />
<ellipse cx="442.5" cy="380.8" rx="1.6" ry="1.1" fill="none" stroke="#000" stroke-width="1.32" transform="rotate(15 442.5 380.8)"/>
<ellipse cx="448.4" cy="382.3" rx="1.6" ry="1.1" fill="none" stroke="#000" stroke-width="1.32" transform="rotate(15 448.4 382.3)"/>
<path d="M232 306 L232.8 307.8" fill="none" stroke="#000" stroke-width="1.06" />
<path d="M259 318 L259.8 319.8" fill="none" stroke="#000" stroke-width="1.06" />
<path d="M292 336 L292.8 337.8" fill="none" stroke="#000" stroke-width="1.06" />
<path d="M318 346 L318.8 347.8" fill="none" stroke="#000" stroke-width="1.06" />
<path d="M335 355 L335.8 356.8" fill="none" stroke="#000" stroke-width="1.06" />
<path d="M349 358 L349.8 359.8" fill="none" stroke="#000" stroke-width="1.06" />
<path d="M372 372 L372.8 373.8" fill="none" stroke="#000" stroke-width="1.06" />
<path d="M398 381 L398.8 382.8" fill="none" stroke="#000" stroke-width="1.06" />
<path d="M420 389 L420.8 390.8" fill="none" stroke="#000" stroke-width="1.06" />
<path d="M453.7 380 L466 384 L477.5 386.4 L484 384.6 L491.2 380 L497 378.6 L515 377.5 L550 365 L561.2 360.6 L562.5 358 L567.5 356.2 L572.5 359.4 L573.7 361.9 L578.7 361.9 L582.5 364.4 L582.5 368 L578.7 368.7 L576.2 372.5 L565 373 L561.2 376.2 L520 397.5 L515 400" fill="none" stroke="#000" stroke-width="2.11" />
<path d="M447.5 397 C450 397.4 456.88 399.32 462.5 399.4 C468.12 399.48 476.42 398.65 481.2 397.5 C485.98 396.35 488.9 394.17 491.2 392.5 C493.5 390.83 492.92 388.75 495 387.5 C497.08 386.25 499.53 385.63 503.7 385 C507.87 384.37 517.28 383.92 520 383.7" fill="none" stroke="#000" stroke-width="1.98" />
<path d="M453.7 386.2 C456.42 386.83 464.37 389.7 470 390 C475.63 390.3 483.55 389.05 487.5 388 C491.45 386.95 489.12 385.03 493.7 383.7 C498.28 382.37 511.45 380.62 515 380" fill="none" stroke="#000" stroke-width="1.58" />
<path d="M458.7 393 L481.2 393" fill="none" stroke="#000" stroke-width="1.45" />
<path d="M450 391.6 L454 392.6" fill="none" stroke="#000" stroke-width="2.64" />
<ellipse cx="491" cy="390.6" rx="1.3" ry="1.3" fill="none" stroke="#000" stroke-width="1.32"/>
<path d="M517.5 381.2 L557.5 368.7" fill="none" stroke="#000" stroke-width="1.58" />
<path d="M522.5 384.4 L555 372.5" fill="none" stroke="#000" stroke-width="1.58" />
<path d="M522.5 391.2 L560 373" fill="none" stroke="#000" stroke-width="1.58" />
<path d="M548.7 365 L556.2 370 L560.6 375.6" fill="none" stroke="#000" stroke-width="1.58" />
<path d="M491.2 380 L496 383 L512 381.6" fill="none" stroke="#000" stroke-width="1.45" />
<ellipse cx="521.6" cy="382.6" rx="1.2" ry="1.2" fill="none" stroke="#000" stroke-width="1.32"/>
<ellipse cx="567.4" cy="360.2" rx="3" ry="2.4" fill="none" stroke="#000" stroke-width="1.85"/>
<ellipse cx="571" cy="365.6" rx="2.2" ry="2.6" fill="none" stroke="#000" stroke-width="1.98"/>
<path d="M562.5 364 L566 366.6 L565 373" fill="none" stroke="#000" stroke-width="1.72" />
<path d="M574.6 363 L576 367.6" fill="none" stroke="#000" stroke-width="1.72" />
<path d="M498.6 389 L503 386 L516.6 385 L518.7 388.6 L515 398.6 L509 402.6 L503 403 L500 398 L503.6 393 Z" fill="#fff" stroke="#000" stroke-width="1.98" />
<path d="M492.6 398 L500 394.6 L508 396 L509 400.6 L501 404.6 L494 403.6 Z" fill="#fff" stroke="#000" stroke-width="1.98" />
<path d="M494 400 L501 400.6 L508 397" fill="none" stroke="#000" stroke-width="1.32" />
<path d="M501 400.6 L501 404" fill="none" stroke="#000" stroke-width="1.32" />
<path d="M506 387.6 L508 392 L504 395" fill="none" stroke="#000" stroke-width="1.58" />
<path d="M508 392 L514 392.6 L516.6 386" fill="none" stroke="#000" stroke-width="1.58" />
<ellipse cx="512.6" cy="397" rx="1.2" ry="1.2" fill="none" stroke="#000" stroke-width="1.32"/>
<ellipse cx="517" cy="388" rx="1.1" ry="1.1" fill="none" stroke="#000" stroke-width="1.32"/>
<path d="M563.7 293.7 L635 261.9 L645 265 L648.7 268.7 L645 271.2 L593.7 294.4 L592.5 296.9 L580 303.7 L577.5 304.4 L565 301.2 L554.4 303 L553.7 301.2 L557.5 296.9 Z" fill="#fff" stroke="#000" stroke-width="2.11" />
<path d="M645 268 L593.7 290.6 L592 293.7 L575 301.2 L558.7 300" fill="none" stroke="#000" stroke-width="1.45" />
<path d="M635 276 L636 278.2 L639.6 278.6 L643.7 275.6 L643.7 272.4" fill="none" stroke="#000" stroke-width="1.85" />
<path d="M591.2 291.8 L607.9 287.6 L610 291.5 L593 296.8 Z" fill="#fff" stroke="#000" stroke-width="1.98" />
<path d="M592.4 294.4 L609 289.6" fill="none" stroke="#000" stroke-width="1.32" />
<path d="M578.6 304.4 L580.6 309.8 L586.4 307.4 L587.4 303.2 L585 301.2" fill="none" stroke="#000" stroke-width="2.11" />
<path d="M581.4 306 L584.4 305 L584.8 307.6" fill="none" stroke="#000" stroke-width="1.72" />
<path d="M565 299.4 L577 302.6" fill="none" stroke="#000" stroke-width="1.32" />
<path d="M600 331.9 L604.4 326.2 L631.2 314.4 L636.2 315 L637.5 308.7 L641.2 302.5 L651.2 298.7 L660 300.6 L662.5 303.7 L656.2 307.5 L653.7 316.2 L643.7 319.4 L638.7 318.7 L636.2 323.7 L616.2 331.9 L608.7 330 L605.6 335 L601.2 334.4 Z" fill="#fff" stroke="#000" stroke-width="2.11" />
<path d="M604.4 326.2 L609.6 328 L608.7 330" fill="none" stroke="#000" stroke-width="1.45" />
<path d="M609.6 328 L634 317.6" fill="none" stroke="#000" stroke-width="1.32" />
<ellipse cx="615" cy="325.6" rx="1.8" ry="1.3" fill="none" stroke="#000" stroke-width="1.85" transform="rotate(-20 615 325.6)"/>
<ellipse cx="623" cy="322.2" rx="2.4" ry="1.5" fill="none" stroke="#000" stroke-width="1.85" transform="rotate(-20 623 322.2)"/>
<ellipse cx="632.5" cy="318" rx="1.8" ry="1.2" fill="none" stroke="#000" stroke-width="1.85" transform="rotate(-20 632.5 318)"/>
<path d="M640 304.4 L650.6 300.8" fill="none" stroke="#000" stroke-width="1.58" />
<path d="M640.9 307.1 L651.5 303.5" fill="none" stroke="#000" stroke-width="1.58" />
<path d="M641.8 309.8 L652.4 306.2" fill="none" stroke="#000" stroke-width="1.58" />
<path d="M642.7 312.5 L653.3 308.9" fill="none" stroke="#000" stroke-width="1.58" />
<path d="M646 300.6 L649 304 L655.6 302" fill="none" stroke="#000" stroke-width="1.58" />
<path d="M644.6 312.6 L645.6 318.4" fill="none" stroke="#000" stroke-width="1.45" />
<path d="M649.6 310.6 L650.6 316.8" fill="none" stroke="#000" stroke-width="1.45" />
<path d="M649 304 L656.2 307.5" fill="none" stroke="#000" stroke-width="1.32" />
<path d="M610.6 347.5 L613.7 345 L632.5 337.5 L638.7 338.7 L642.5 334.4 L663.7 325 L666.2 321.2 L675 317.5 L685 318 L689.4 320.6 L687.5 324.4 L681.2 327.5 L675 330.6 L667.5 329 L643.7 340 L641.2 343.7 L637.5 346.2 L625 352.5 L615 351.2 Z" fill="#fff" stroke="#000" stroke-width="2.11" />
<path d="M643 336.6 L664.6 327" fill="none" stroke="#000" stroke-width="1.45" />
<path d="M612 348.6 L624 350 L640 342.4" fill="none" stroke="#000" stroke-width="1.32" />
<ellipse cx="623.7" cy="345" rx="2.4" ry="1.5" fill="none" stroke="#000" stroke-width="1.85" transform="rotate(-20 623.7 345)"/>
<ellipse cx="632.5" cy="341.5" rx="1.9" ry="1.2" fill="none" stroke="#000" stroke-width="2.11" transform="rotate(-20 632.5 341.5)"/>
<ellipse cx="618" cy="347.6" rx="1.3" ry="1" fill="none" stroke="#000" stroke-width="1.32"/>
<path d="M666.2 321.2 L668 326.4 L675 330" fill="none" stroke="#000" stroke-width="1.58" />
<path d="M668.6 320.4 L673.6 322 L674.6 327" fill="none" stroke="#000" stroke-width="1.58" />
<path d="M673.6 322 L681 318.6" fill="none" stroke="#000" stroke-width="1.45" />
<path d="M674.6 327 L680.6 324.6 L681 318.6" fill="none" stroke="#000" stroke-width="1.45" />
<ellipse cx="685.4" cy="321.4" rx="2.4" ry="2" fill="none" stroke="#000" stroke-width="1.58"/>
<path d="M671.1 299.4 L673.4 296.7 L686.1 290.4 L688.8 286.8 L693.3 285.4 L699.6 288.1 L705 291.3 L706.4 296.7 L703.7 301.7 L697.8 302.6 L693.3 301.2 L692.4 305.3 L687.9 308.9 L680.6 310.7 L675.2 307.1 L671.6 304.4 Z" fill="#fff" stroke="#000" stroke-width="2.24" />
<path d="M673.4 296.9 C673.27 297.55 672.33 299.35 672.6 300.8 C672.87 302.25 674 304.3 675 305.6 C676 306.9 678 308.1 678.6 308.6" fill="none" stroke="#000" stroke-width="1.85" />
<path d="M676.8 295.4 C676.67 296.1 675.73 298.17 676 299.6 C676.27 301.03 677.4 302.83 678.4 304 C679.4 305.17 681.4 306.17 682 306.6" fill="none" stroke="#000" stroke-width="1.85" />
<path d="M680.2 293.6 C680.1 294.33 679.4 296.67 679.6 298 C679.8 299.33 681.1 301 681.4 301.6" fill="none" stroke="#000" stroke-width="1.72" />
<path d="M677 298 L686.6 293.8" fill="none" stroke="#000" stroke-width="1.72" />
<path d="M679.6 301.2 L688.2 297.2 L690 299.6" fill="none" stroke="#000" stroke-width="1.72" />
<path d="M686.6 293.8 L688.2 297.2" fill="none" stroke="#000" stroke-width="1.45" />
<path d="M681.4 301.6 C683 300 686 299.6 688.6 300.4 L691.4 303.6 L689.0 306.4 L683.6 307.4 Z" fill="#fff" stroke="#000" stroke-width="1.85" />
<ellipse cx="684.6" cy="305" rx="2.2" ry="1.7" fill="#000" stroke="#000" stroke-width="2.11" transform="rotate(-15 684.6 305)"/>
<path d="M686.1 290.4 L688 293.6 L693.6 293 L697.4 296 L697.8 302.6" fill="none" stroke="#000" stroke-width="1.58" />
<ellipse cx="701.6" cy="296.6" rx="3.7" ry="5" fill="#fff" stroke="#000" stroke-width="1.98" transform="rotate(15 701.6 296.6)"/>
<ellipse cx="701.8" cy="296.8" rx="1.5" ry="2.5" fill="none" stroke="#000" stroke-width="1.72" transform="rotate(15 701.8 296.8)"/>
<ellipse cx="693.4" cy="289.4" rx="1.5" ry="1.3" fill="none" stroke="#000" stroke-width="1.58"/>
<ellipse cx="690.4" cy="292" rx="1.2" ry="1" fill="none" stroke="#000" stroke-width="1.32"/>
<path d="M599.9 374.4 L632.4 359.8 L633.4 357.3 L636.5 355.6 L835 267.51 L840 268 L840.6 271.2 L838 274.4 L848.7 279.4 L848 283 L841.2 287.5 L840 290 L618.6 388.4 L611.3 390.9 L609.6 388.2 L605.6 386.6 L599.5 381.7 Z" fill="#fff" stroke="#000" stroke-width="2.11" />
<path d="M643.7 358.72 L834 272.95" fill="none" stroke="#000" stroke-width="1.39" />
<path d="M642 361.88 L836 275.66" fill="none" stroke="#000" stroke-width="1.39" />
<path d="M700 337.99 L838 277.37" fill="none" stroke="#000" stroke-width="2.24" />
<path d="M645 363.94 L770 309.33" fill="none" stroke="#000" stroke-width="1.32" />
<path d="M620 383.7 L726.2 332.3 L838.7 281.2" fill="none" stroke="#000" stroke-width="1.58" />
<path d="M603.1 376.2 L634.1 362.4 L635.9 359.8 L643.7 358.72" fill="none" stroke="#000" stroke-width="1.45" />
<path d="M611.3 378.5 L640.6 365.5" fill="none" stroke="#000" stroke-width="1.45" />
<path d="M603.1 376.2 C603.05 377 602.05 379.57 602.8 381 C603.55 382.43 605.9 383.97 607.6 384.8 C609.3 385.63 612.1 385.8 613 386" fill="none" stroke="#000" stroke-width="1.45" />
<path d="M611.3 378.5 C611.83 378.63 613.32 378.77 614.5 379.3 C615.68 379.83 617.58 380.65 618.4 381.7 C619.22 382.75 619.6 384.42 619.4 385.6 C619.2 386.78 617.57 388.27 617.2 388.8" fill="none" stroke="#000" stroke-width="1.85" />
<path d="M611.6 380.8 C612.03 381.07 613.57 381.7 614.2 382.4 C614.83 383.1 615.53 384.23 615.4 385 C615.27 385.77 614 386.97 613.4 387 C612.8 387.03 612.07 385.5 611.8 385.2" fill="none" stroke="#000" stroke-width="1.58" />
<path d="M637 362 L641 364.6 L641 368" fill="none" stroke="#000" stroke-width="1.32" />
<path d="M644 361.99 L664 350.66 L672 347.69" fill="none" stroke="#000" stroke-width="1.32" />
<path d="M826 272.8 L829 276.4 L838 274.4" fill="none" stroke="#000" stroke-width="1.45" />
<path d="M838 274.4 L841.2 280.6 L848 283" fill="none" stroke="#000" stroke-width="1.45" />
<path d="M835.6 268.6 L829 272.4" fill="none" stroke="#000" stroke-width="1.32" />
<path d="M510.6 463.7 L512.5 461.9 L540 448.7 L543 445 L815 319.39 L820 320 L823.7 315.6 L831.2 311.9 L837.5 311.9 L841.2 309.4 L845 311.2 L845.6 317.5 L855 321.9 L856.2 325.6 L855 328.7 L600 448.7 L592.5 450 L587.5 446.9 L590 443 L587.5 440 L585 438.7 L582.5 441.9 L566.2 448 L525 465 L516.2 468 L511.9 467.5 Z" fill="#fff" stroke="#000" stroke-width="2.11" />
<path d="M546.2 446.9 L818 321.61" fill="none" stroke="#000" stroke-width="1.45" />
<path d="M586.2 437.5 L840 315.6" fill="none" stroke="#000" stroke-width="1.58" />
<path d="M590.6 441 L843.7 318.7" fill="none" stroke="#000" stroke-width="1.58" />
<path d="M600 444.6 L853.7 325.6" fill="none" stroke="#000" stroke-width="1.58" />
<path d="M518.7 462.5 L537.5 453.7" fill="none" stroke="#000" stroke-width="1.45" />
<path d="M514 465 L538.6 451 L543.6 447" fill="none" stroke="#000" stroke-width="1.32" />
<path d="M537.5 453.7 L540.6 452 L541 455.6" fill="none" stroke="#000" stroke-width="1.32" />
<path d="M823.7 315.6 L826 318.6 L836 314" fill="none" stroke="#000" stroke-width="1.32" />
<path d="M841.2 309.4 L841.6 314.6" fill="none" stroke="#000" stroke-width="1.45" />
<rect x="595.9" y="434.4" width="2.8" height="8.2" rx="1.4" ry="1.4" fill="none" stroke="#000" stroke-width="1.2" transform="rotate(-6 597.3 438.5)"/>
<ellipse cx="625" cy="426.9" rx="3.2" ry="1.6" fill="none" stroke="#000" stroke-width="1.85" transform="rotate(-10 625 426.9)"/>
<ellipse cx="831.9" cy="331.6" rx="3.6" ry="1.8" fill="#444" stroke="#000" stroke-width="2.11" transform="rotate(-10 831.9 331.6)"/>
<path d="M641.4 416.6 L652.6 411 L660 413 L649 419.6 Z" fill="none" stroke="#000" stroke-width="1.98" />
<path d="M645.6 416.4 L652.4 413.2 L655.8 414.2 L649.4 417.6 Z" fill="none" stroke="#000" stroke-width="1.32" />
<path d="M603 402 L606.2 399.4 L611.2 400.6 L615 397.5 L615.6 394.4 L620.6 392.5 L625 393.7 L626.9 397.5 L631.2 396.9 L632.5 400.6 L631.2 403 L620 404.4 L613.7 408 L610 406.9 L603.7 404.4 Z" fill="#fff" stroke="#000" stroke-width="2.11" />
<path d="M604 402.6 L610.6 404.6 L614 402.6 L620 401.6" fill="none" stroke="#000" stroke-width="1.32" />
<path d="M610.6 404.6 L610.4 406.6" fill="none" stroke="#000" stroke-width="1.32" />
<ellipse cx="621.6" cy="396.6" rx="2.6" ry="2.2" fill="none" stroke="#000" stroke-width="2.64"/>
<path d="M622 400 L630.6 399.6" fill="none" stroke="#000" stroke-width="2.11" />
<path d="M563.7 490.6 L570 485 L571.9 480.6 L585 474.4 L592.5 474.4 L596.2 472.5 L602.5 476.2 L608 482.5 L607.5 485 L601.2 484.4 L598.7 481.2 L598 485 L582.5 493 L576.2 491.9 L573.7 495 L576.2 498 L573 503 L569.4 502.5 L565.6 500 L566.9 496.2 L570.6 496.2 L572.5 491.9 L565 493 Z" fill="#fff" stroke="#000" stroke-width="2.11" />
<path d="M572.5 491.9 L575.6 488.6 L582 489.6 L597.6 481.6" fill="none" stroke="#000" stroke-width="1.32" />
<ellipse cx="583.5" cy="483" rx="3.8" ry="1.9" fill="none" stroke="#000" stroke-width="1.72" transform="rotate(-8 583.5 483)"/>
<path d="M601 479 L606 483.6" fill="none" stroke="#000" stroke-width="2.64" />
<path d="M567 496.6 L571.6 500.6 L573 503" fill="none" stroke="#000" stroke-width="1.32" />
<path d="M454.4 431.9 L462.5 427.5 L468 426.9 L485 431.9 L493 428.7 L498 428.7 L500 432.5 L500.6 438.7 L490 445 L489.4 448 L486.2 448.7 L475 445 L468 441.2 L465 440 L455.6 434.4 Z" fill="#fff" stroke="#000" stroke-width="2.11" />
<path d="M458.7 431.9 L475 439.4 L485 431.9" fill="none" stroke="#000" stroke-width="1.45" />
<path d="M475 439.4 L490 445" fill="none" stroke="#000" stroke-width="1.45" />
<path d="M475 439.4 L493 429.4" fill="none" stroke="#000" stroke-width="1.45" />
<path d="M455.6 434.4 L456.6 432.6" fill="none" stroke="#000" stroke-width="1.32" />
<path d="M464.4 440.6 L465 443.2 L468 443.2 L468 441.2" fill="none" stroke="#000" stroke-width="1.58" />
<ellipse cx="496.6" cy="433.4" rx="1.4" ry="1.8" fill="none" stroke="#000" stroke-width="1.58"/>
<path d="M486.2 444.6 L486.2 448.4" fill="none" stroke="#000" stroke-width="1.32" />
<path d="M470 475.6 L481.2 470 L486.2 472.5 L498.7 466.9 L505 470 L507.5 473.7 L507.5 478.7 L506.2 481.2 L511.2 483 L511.9 488.7 L507.5 492.5 L500 490 L499.4 484.4 L492.5 486.9 L485 488.7 L482.5 488 L471.2 495 L465 496.2 L460 493 L458.7 488.7 L465 485 L470 482.5 Z" fill="#fff" stroke="#000" stroke-width="2.11" />
<path d="M470 477 C471 477.1 474.17 476.93 476 477.6 C477.83 478.27 479.83 479.6 481 481 C482.17 482.4 482.67 485.17 483 486" fill="none" stroke="#000" stroke-width="1.72" />
<path d="M481 481 L503 471" fill="none" stroke="#000" stroke-width="1.45" />
<path d="M484 484.6 L506.6 474.6" fill="none" stroke="#000" stroke-width="1.45" />
<ellipse cx="480.6" cy="472.8" rx="2.2" ry="1.4" fill="none" stroke="#000" stroke-width="1.58" transform="rotate(-20 480.6 472.8)"/>
<path d="M470 482.5 L473 485 L482.5 488" fill="none" stroke="#000" stroke-width="1.45" />
<ellipse cx="467.6" cy="489" rx="3.6" ry="2.2" fill="none" stroke="#000" stroke-width="1.72" transform="rotate(-20 467.6 489)"/>
<path d="M467 491.6 L475.6 487.6" fill="none" stroke="#000" stroke-width="1.32" />
<path d="M459 490.6 L465.6 493.6 L471.2 492.4" fill="none" stroke="#000" stroke-width="1.32" />
<path d="M500 484.6 L506.4 487 L511.4 484" fill="none" stroke="#000" stroke-width="1.32" />
<path d="M506.4 487 L507 492" fill="none" stroke="#000" stroke-width="1.32" />
<rect x="501.4" y="485.8" width="3.8" height="3.6" fill="none" stroke="#000" stroke-width="1.0" transform="rotate(18 503 487.6)"/>
<path d="M492.5 486.9 L494 483 L499.4 480.4" fill="none" stroke="#000" stroke-width="1.32" />
<path d="M490.6 488 L491 489.6" fill="none" stroke="#000" stroke-width="1.85" />
<path d="M458.8 521.8 L460.6 513.1 L463.2 509.9 L467.9 508.8 L470.4 510.2 L474.8 509.5 L480.6 511.3 L484.6 513.8 L484.9 516.7 L482 518.6 L476.2 516.7 L472.6 516 L471.2 516.7 L474.8 518.2 L477 520 L475.9 522.2 L471.9 522.9 L469 521.4 L466.1 521.8 L469 523.6 L468.6 525.8 L464.6 526.5 L460.3 524.7 Z" fill="#fff" stroke="#000" stroke-width="2.11" />
<path d="M462.4 514.4 L465 511.8 L469.2 511.2" fill="none" stroke="#000" stroke-width="1.58" />
<path d="M462.4 514.4 L466.6 513.6 L469.2 511.2" fill="none" stroke="#000" stroke-width="1.32" />
<path d="M471.2 516.7 L475.6 514 L482.6 515.6" fill="none" stroke="#000" stroke-width="1.98" />
<path d="M464 521 L469.6 518.4 L474.8 519.4" fill="none" stroke="#000" stroke-width="1.98" />
<path d="M460 522.6 L464.6 524.6 L468 524.4" fill="none" stroke="#000" stroke-width="1.32" />
<text transform="translate(823.5 64.4) scale(1.08 1)" font-size="16" font-family="'Liberation Sans', sans-serif" stroke="#000" stroke-width="0.42">2</text>
<path d="M839.95 64.4 L838.27 64.4 L838.27 56.45 L834.96 56.45 L834.96 55.34 C836.8 55.24 838.43 54.34 838.87 52.93 L839.95 52.93 Z" fill="#000" stroke="#000" stroke-width="0.45"/>
<text transform="translate(962.2 133) scale(1.08 1)" font-size="16.4" font-family="'Liberation Sans', sans-serif" stroke="#000" stroke-width="0.42">3</text>
<path d="M979.07 133 L977.34 133 L977.34 124.85 L973.94 124.85 L973.94 123.72 C975.84 123.61 977.51 122.69 977.95 121.24 L979.07 121.24 Z" fill="#000" stroke="#000" stroke-width="0.45"/>
<text transform="translate(1011.7 170) scale(1.08 1)" font-size="16.4" font-family="'Liberation Sans', sans-serif" stroke="#000" stroke-width="0.42">3</text>
<text transform="translate(1021.55 170) scale(1.08 1)" font-size="16.4" font-family="'Liberation Sans', sans-serif" stroke="#000" stroke-width="0.42">0</text>
<text transform="translate(888.5 181) scale(1.08 1)" font-size="16.4" font-family="'Liberation Sans', sans-serif" stroke="#000" stroke-width="0.42">4</text>
<text transform="translate(836.1 212.5) scale(1.08 1)" font-size="16.4" font-family="'Liberation Sans', sans-serif" stroke="#000" stroke-width="0.42">2</text>
<text transform="translate(845.95 212.5) scale(1.08 1)" font-size="16.4" font-family="'Liberation Sans', sans-serif" stroke="#000" stroke-width="0.42">9</text>
<text transform="translate(651.1 156.9) scale(1.08 1)" font-size="16.9" font-family="'Liberation Sans', sans-serif" stroke="#000" stroke-width="0.42">2</text>
<text transform="translate(661.25 156.9) scale(1.08 1)" font-size="16.9" font-family="'Liberation Sans', sans-serif" stroke="#000" stroke-width="0.42">2</text>
<text transform="translate(677.3 203.7) scale(1.08 1)" font-size="16.9" font-family="'Liberation Sans', sans-serif" stroke="#000" stroke-width="0.42">3</text>
<text transform="translate(687.45 203.7) scale(1.08 1)" font-size="16.9" font-family="'Liberation Sans', sans-serif" stroke="#000" stroke-width="0.42">2</text>
<path d="M635.12 200.2 L633.39 200.2 L633.39 192.05 L629.99 192.05 L629.99 190.92 C631.89 190.81 633.56 189.89 634 188.44 L635.12 188.44 Z" fill="#000" stroke="#000" stroke-width="0.45"/>
<text transform="translate(637.95 200.2) scale(1.08 1)" font-size="16.4" font-family="'Liberation Sans', sans-serif" stroke="#000" stroke-width="0.42">9</text>
<path d="M660.15 200.6 L658.46 200.6 L658.46 192.65 L655.15 192.65 L655.15 191.54 C657 191.44 658.63 190.54 659.06 189.13 L660.15 189.13 Z" fill="#000" stroke="#000" stroke-width="0.45"/>
<path d="M669.75 200.6 L668.07 200.6 L668.07 192.65 L664.76 192.65 L664.76 191.54 C666.6 191.44 668.23 190.54 668.67 189.13 L669.75 189.13 Z" fill="#000" stroke="#000" stroke-width="0.45"/>
<path d="M676.52 223.2 L674.79 223.2 L674.79 215.05 L671.39 215.05 L671.39 213.92 C673.29 213.81 674.96 212.89 675.4 211.44 L676.52 211.44 Z" fill="#000" stroke="#000" stroke-width="0.45"/>
<text transform="translate(679.35 223.2) scale(1.08 1)" font-size="16.4" font-family="'Liberation Sans', sans-serif" stroke="#000" stroke-width="0.42">9</text>
<text transform="translate(689.9 224.4) scale(1.08 1)" font-size="16.4" font-family="'Liberation Sans', sans-serif" stroke="#000" stroke-width="0.42">3</text>
<text transform="translate(699.75 224.4) scale(1.08 1)" font-size="16.4" font-family="'Liberation Sans', sans-serif" stroke="#000" stroke-width="0.42">3</text>
<path d="M719.52 218.7 L717.79 218.7 L717.79 210.55 L714.39 210.55 L714.39 209.42 C716.29 209.31 717.96 208.39 718.4 206.94 L719.52 206.94 Z" fill="#000" stroke="#000" stroke-width="0.45"/>
<text transform="translate(722.35 218.7) scale(1.08 1)" font-size="16.4" font-family="'Liberation Sans', sans-serif" stroke="#000" stroke-width="0.42">2</text>
<path d="M718.95 238.4 L717.11 238.4 L717.11 229.75 L713.51 229.75 L713.51 228.55 C715.52 228.44 717.29 227.46 717.76 225.92 L718.95 225.92 Z" fill="#000" stroke="#000" stroke-width="0.45"/>
<text transform="translate(721.95 238.4) scale(1.08 1)" font-size="17.4" font-family="'Liberation Sans', sans-serif" stroke="#000" stroke-width="0.42">3</text>
<text transform="translate(768.5 225) scale(1.08 1)" font-size="16.4" font-family="'Liberation Sans', sans-serif" stroke="#000" stroke-width="0.42">2</text>
<text transform="translate(778.35 225) scale(1.08 1)" font-size="16.4" font-family="'Liberation Sans', sans-serif" stroke="#000" stroke-width="0.42">0</text>
<text transform="translate(578.1 241.3) scale(1.08 1)" font-size="16.4" font-family="'Liberation Sans', sans-serif" stroke="#000" stroke-width="0.42">2</text>
<text transform="translate(587.95 241.3) scale(1.08 1)" font-size="16.4" font-family="'Liberation Sans', sans-serif" stroke="#000" stroke-width="0.42">4</text>
<text transform="translate(578.1 260.6) scale(1.08 1)" font-size="16.4" font-family="'Liberation Sans', sans-serif" stroke="#000" stroke-width="0.42">2</text>
<text transform="translate(587.95 260.6) scale(1.08 1)" font-size="16.4" font-family="'Liberation Sans', sans-serif" stroke="#000" stroke-width="0.42">7</text>
<path d="M658.92 291.3 L657.19 291.3 L657.19 283.15 L653.79 283.15 L653.79 282.02 C655.69 281.91 657.36 280.99 657.8 279.54 L658.92 279.54 Z" fill="#000" stroke="#000" stroke-width="0.45"/>
<text transform="translate(661.75 291.3) scale(1.08 1)" font-size="16.4" font-family="'Liberation Sans', sans-serif" stroke="#000" stroke-width="0.42">6</text>
<path d="M723.32 294.5 L721.59 294.5 L721.59 286.35 L718.19 286.35 L718.19 285.22 C720.09 285.11 721.76 284.19 722.2 282.74 L723.32 282.74 Z" fill="#000" stroke="#000" stroke-width="0.45"/>
<text transform="translate(726.15 294.5) scale(1.08 1)" font-size="16.4" font-family="'Liberation Sans', sans-serif" stroke="#000" stroke-width="0.42">5</text>
<path d="M723.32 310.6 L721.59 310.6 L721.59 302.45 L718.19 302.45 L718.19 301.32 C720.09 301.21 721.76 300.29 722.2 298.84 L723.32 298.84 Z" fill="#000" stroke="#000" stroke-width="0.45"/>
<text transform="translate(726.15 310.6) scale(1.08 1)" font-size="16.4" font-family="'Liberation Sans', sans-serif" stroke="#000" stroke-width="0.42">8</text>
<text transform="translate(592.9 311.9) scale(1.08 1)" font-size="16.4" font-family="'Liberation Sans', sans-serif" stroke="#000" stroke-width="0.42">3</text>
<path d="M609.77 311.9 L608.04 311.9 L608.04 303.75 L604.64 303.75 L604.64 302.62 C606.54 302.51 608.21 301.59 608.65 300.14 L609.77 300.14 Z" fill="#000" stroke="#000" stroke-width="0.45"/>
<text transform="translate(520.9 327) scale(1.08 1)" font-size="16.4" font-family="'Liberation Sans', sans-serif" stroke="#000" stroke-width="0.42">2</text>
<text transform="translate(530.75 327) scale(1.08 1)" font-size="16.4" font-family="'Liberation Sans', sans-serif" stroke="#000" stroke-width="0.42">8</text>
<path d="M590.32 348.8 L588.59 348.8 L588.59 340.65 L585.19 340.65 L585.19 339.52 C587.09 339.41 588.76 338.49 589.2 337.04 L590.32 337.04 Z" fill="#000" stroke="#000" stroke-width="0.45"/>
<text transform="translate(593.15 348.8) scale(1.08 1)" font-size="16.4" font-family="'Liberation Sans', sans-serif" stroke="#000" stroke-width="0.42">4</text>
<path d="M591.32 368.2 L589.59 368.2 L589.59 360.05 L586.19 360.05 L586.19 358.92 C588.09 358.81 589.76 357.89 590.2 356.44 L591.32 356.44 Z" fill="#000" stroke="#000" stroke-width="0.45"/>
<text transform="translate(594.15 368.2) scale(1.08 1)" font-size="16.4" font-family="'Liberation Sans', sans-serif" stroke="#000" stroke-width="0.42">7</text>
<text transform="translate(888.1 277.5) scale(1.08 1)" font-size="16.4" font-family="'Liberation Sans', sans-serif" stroke="#000" stroke-width="0.42">5</text>
<text transform="translate(888.5 297.5) scale(1.08 1)" font-size="16.4" font-family="'Liberation Sans', sans-serif" stroke="#000" stroke-width="0.42">6</text>
<text transform="translate(888.9 322.5) scale(1.08 1)" font-size="16.4" font-family="'Liberation Sans', sans-serif" stroke="#000" stroke-width="0.42">7</text>
<text transform="translate(888.1 343.8) scale(1.08 1)" font-size="16.4" font-family="'Liberation Sans', sans-serif" stroke="#000" stroke-width="0.42">9</text>
<text transform="translate(571.9 406.9) scale(1.08 1)" font-size="16.4" font-family="'Liberation Sans', sans-serif" stroke="#000" stroke-width="0.42">2</text>
<text transform="translate(318.1 408) scale(1.08 1)" font-size="17" font-family="'Liberation Sans', sans-serif" stroke="#000" stroke-width="0.42">2</text>
<text transform="translate(328.31 408) scale(1.08 1)" font-size="17" font-family="'Liberation Sans', sans-serif" stroke="#000" stroke-width="0.42">3</text>
<text transform="translate(412.3 427.5) scale(1.08 1)" font-size="16.4" font-family="'Liberation Sans', sans-serif" stroke="#000" stroke-width="0.42">2</text>
<text transform="translate(422.15 427.5) scale(1.08 1)" font-size="16.4" font-family="'Liberation Sans', sans-serif" stroke="#000" stroke-width="0.42">5</text>
<text transform="translate(412.1 447) scale(1.08 1)" font-size="16.4" font-family="'Liberation Sans', sans-serif" stroke="#000" stroke-width="0.42">2</text>
<text transform="translate(421.95 447) scale(1.08 1)" font-size="16.4" font-family="'Liberation Sans', sans-serif" stroke="#000" stroke-width="0.42">6</text>
<text transform="translate(426.1 470) scale(1.08 1)" font-size="16.4" font-family="'Liberation Sans', sans-serif" stroke="#000" stroke-width="0.42">3</text>
<path d="M442.97 470 L441.24 470 L441.24 461.85 L437.84 461.85 L437.84 460.72 C439.74 460.61 441.41 459.69 441.85 458.24 L442.97 458.24 Z" fill="#000" stroke="#000" stroke-width="0.45"/>
<text transform="translate(536.3 489.2) scale(1.08 1)" font-size="16.4" font-family="'Liberation Sans', sans-serif" stroke="#000" stroke-width="0.42">8</text>
<path d="M540.52 508.6 L538.79 508.6 L538.79 500.45 L535.39 500.45 L535.39 499.32 C537.29 499.21 538.96 498.29 539.4 496.84 L540.52 496.84 Z" fill="#000" stroke="#000" stroke-width="0.45"/>
<text transform="translate(543.35 508.6) scale(1.08 1)" font-size="16.4" font-family="'Liberation Sans', sans-serif" stroke="#000" stroke-width="0.42">0</text>
<path d="M428.72 525.6 L426.99 525.6 L426.99 517.45 L423.59 517.45 L423.59 516.32 C425.49 516.21 427.16 515.29 427.6 513.84 L428.72 513.84 Z" fill="#000" stroke="#000" stroke-width="0.45"/>
<text transform="translate(628.1 488.8) scale(1.08 1)" font-size="16.4" font-family="'Liberation Sans', sans-serif" stroke="#000" stroke-width="0.42">3</text>
<path d="M835 67 L835 84" fill="none" stroke="#000" stroke-width="1.65" />
<path d="M940 128.7 L960.6 128.7" fill="none" stroke="#000" stroke-width="1.65" />
<path d="M1020.6 175.6 L1020.6 198" fill="none" stroke="#000" stroke-width="1.65" />
<path d="M1020.4 223.7 L1020.4 231.9 L952.5 201.9 L952.5 216" fill="none" stroke="#000" stroke-width="1.32" />
<path d="M893.5 185 L893.5 198.5" fill="none" stroke="#000" stroke-width="1.65" />
<path d="M817.5 208.1 L832.5 208.1" fill="none" stroke="#000" stroke-width="1.65" />
<path d="M675.6 152.1 L721 152.1" fill="none" stroke="#000" stroke-width="1.65" />
<path d="M718 125.6 L686.2 125.6 L686.2 176.2 L724 176.2" fill="none" stroke="#000" stroke-width="1.65" />
<path d="M701 198.7 L722.5 198.7" fill="none" stroke="#000" stroke-width="1.65" />
<path d="M638.7 203 L638.7 221" fill="none" stroke="#000" stroke-width="1.65" />
<path d="M661.9 207.5 L661.9 223" fill="none" stroke="#000" stroke-width="1.65" />
<path d="M684.7 227.5 L684.7 243.7" fill="none" stroke="#000" stroke-width="1.65" />
<path d="M701.9 228.7 L701.9 241.2" fill="none" stroke="#000" stroke-width="1.65" />
<path d="M720 241.9 L720 250" fill="none" stroke="#000" stroke-width="1.65" />
<path d="M758.7 235.6 L733.1 223.7 L733.1 273.1 L727.5 268" fill="none" stroke="#000" stroke-width="1.65" />
<path d="M779 228 L779 238.7" fill="none" stroke="#000" stroke-width="1.65" />
<path d="M591 265 L591 280.6" fill="none" stroke="#000" stroke-width="1.65" />
<path d="M658.7 294.4 L658.7 299.4" fill="none" stroke="#000" stroke-width="1.65" />
<path d="M705.6 298 L711.2 298" fill="none" stroke="#000" stroke-width="1.65" />
<path d="M613.7 303.7 L617 303.7" fill="none" stroke="#000" stroke-width="1.65" />
<path d="M544.4 322 L564.4 322.5" fill="none" stroke="#000" stroke-width="1.65" />
<path d="M605.6 350.6 L611.2 350.6" fill="none" stroke="#000" stroke-width="1.65" />
<path d="M849.4 279 L883.7 279.6" fill="none" stroke="#000" stroke-width="1.65" />
<path d="M856.9 324.6 L881.9 325" fill="none" stroke="#000" stroke-width="1.65" />
<path d="M585 403.5 L603 403" fill="none" stroke="#000" stroke-width="1.65" />
<path d="M325 357 L325 390.8" fill="none" stroke="#000" stroke-width="1.65" />
<path d="M436.2 431.6 L454.4 431.6" fill="none" stroke="#000" stroke-width="1.65" />
<path d="M448 463.7 L462.5 463.7" fill="none" stroke="#000" stroke-width="1.65" />
<path d="M512.5 490 L532.5 490" fill="none" stroke="#000" stroke-width="1.65" />
<path d="M433.5 521.9 L460 521.2" fill="none" stroke="#000" stroke-width="1.65" />
<path d="M608.7 482.7 L625 482.7" fill="none" stroke="#000" stroke-width="1.65" />
<text x="873.6" y="528.5" font-size="12.4" text-anchor="start" font-weight="normal" font-family="'Liberation Mono', sans-serif" textLength="92.4" lengthAdjust="spacingAndGlyphs" stroke="#000" stroke-width="0.55">SM53-B3820</text>
<path d="M31.9 525.6 L36.9 509.2 L39.6 511.6 L61.2 500.6 L68.7 513.1 L47.3 525.2 L48.9 529.6 Z" fill="#000" stroke="#000" stroke-width="1.32" />
<g transform="translate(69.6 510.4) rotate(-27.5)"><text x="0" y="0" font-size="18.5" font-weight="bold" font-family="'Liberation Sans', sans-serif" stroke="#000" stroke-width="0.9" textLength="30" lengthAdjust="spacingAndGlyphs">FR.</text></g>
</svg>
</body></html>
